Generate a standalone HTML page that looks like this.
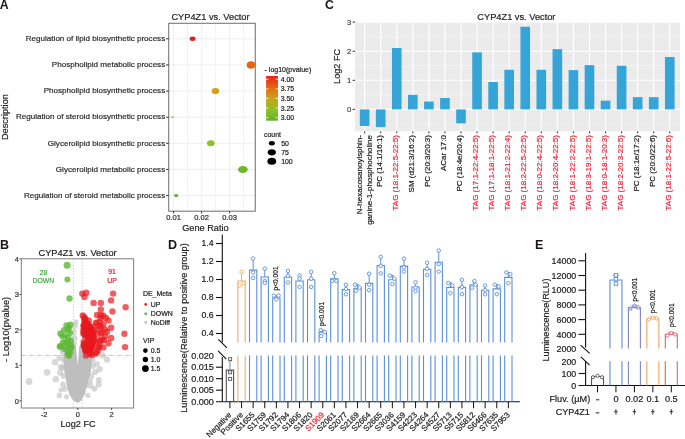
<!DOCTYPE html>
<html><head><meta charset="utf-8"><title>Figure</title>
<style>
html,body{margin:0;padding:0;background:#fff;overflow:hidden;}
svg{display:block;will-change:transform;filter:blur(0.3px);}
text{font-family:"Liberation Sans", sans-serif;}
</style></head>
<body>
<svg width="685" height="439" viewBox="0 0 685 439">
<rect width="685" height="439" fill="#fff"/>
<text x="-0.30" y="9.10" font-size="12.3" fill="#1a1414" text-anchor="start" font-weight="bold">A</text>
<line x1="173.60" y1="23.30" x2="173.60" y2="211.20" stroke="#EBEBEB" stroke-width="0.8"/>
<line x1="187.60" y1="23.30" x2="187.60" y2="211.20" stroke="#EBEBEB" stroke-width="0.6"/>
<line x1="201.60" y1="23.30" x2="201.60" y2="211.20" stroke="#EBEBEB" stroke-width="0.8"/>
<line x1="215.60" y1="23.30" x2="215.60" y2="211.20" stroke="#EBEBEB" stroke-width="0.6"/>
<line x1="229.60" y1="23.30" x2="229.60" y2="211.20" stroke="#EBEBEB" stroke-width="0.8"/>
<line x1="243.60" y1="23.30" x2="243.60" y2="211.20" stroke="#EBEBEB" stroke-width="0.6"/>
<line x1="168.70" y1="38.80" x2="255.30" y2="38.80" stroke="#EBEBEB" stroke-width="0.8"/>
<line x1="168.70" y1="64.93" x2="255.30" y2="64.93" stroke="#EBEBEB" stroke-width="0.8"/>
<line x1="168.70" y1="91.06" x2="255.30" y2="91.06" stroke="#EBEBEB" stroke-width="0.8"/>
<line x1="168.70" y1="117.19" x2="255.30" y2="117.19" stroke="#EBEBEB" stroke-width="0.8"/>
<line x1="168.70" y1="143.32" x2="255.30" y2="143.32" stroke="#EBEBEB" stroke-width="0.8"/>
<line x1="168.70" y1="169.45" x2="255.30" y2="169.45" stroke="#EBEBEB" stroke-width="0.8"/>
<line x1="168.70" y1="195.58" x2="255.30" y2="195.58" stroke="#EBEBEB" stroke-width="0.8"/>
<clipPath id="clipA"><rect x="168.7" y="23.3" width="86.60000000000002" height="187.89999999999998"/></clipPath>
<g clip-path="url(#clipA)">
<ellipse cx="192.60" cy="38.80" rx="3.00" ry="2.20" fill="#E51F1F"/>
<ellipse cx="251.00" cy="64.93" rx="4.30" ry="3.80" fill="#E5660F"/>
<ellipse cx="215.40" cy="91.06" rx="3.80" ry="3.10" fill="#D4A117"/>
<ellipse cx="172.60" cy="117.19" rx="1.30" ry="0.90" fill="#B3B521"/>
<ellipse cx="210.80" cy="143.32" rx="3.80" ry="3.00" fill="#8DC21F"/>
<ellipse cx="242.90" cy="169.45" rx="4.85" ry="3.50" fill="#6CB82A"/>
<ellipse cx="176.10" cy="195.58" rx="2.10" ry="1.50" fill="#63B22C"/>
</g>
<rect x="168.70" y="23.30" width="86.60" height="187.90" fill="none" stroke="#7a7a7a" stroke-width="1.1"/>
<text x="165.20" y="41.10" font-size="8.07" fill="#2a2a2a" text-anchor="end" stroke="#2a2a2a" stroke-width="0.2">Regulation of lipid biosynthetic process</text>
<line x1="166.00" y1="38.80" x2="168.70" y2="38.80" stroke="#333" stroke-width="1"/>
<text x="165.20" y="67.23" font-size="8.07" fill="#2a2a2a" text-anchor="end" stroke="#2a2a2a" stroke-width="0.2">Phospholipid metabolic process</text>
<line x1="166.00" y1="64.93" x2="168.70" y2="64.93" stroke="#333" stroke-width="1"/>
<text x="165.20" y="93.36" font-size="8.07" fill="#2a2a2a" text-anchor="end" stroke="#2a2a2a" stroke-width="0.2">Phospholipid biosynthetic process</text>
<line x1="166.00" y1="91.06" x2="168.70" y2="91.06" stroke="#333" stroke-width="1"/>
<text x="165.20" y="119.49" font-size="8.07" fill="#2a2a2a" text-anchor="end" stroke="#2a2a2a" stroke-width="0.2">Regulation of steroid biosynthetic process</text>
<line x1="166.00" y1="117.19" x2="168.70" y2="117.19" stroke="#333" stroke-width="1"/>
<text x="165.20" y="145.62" font-size="8.07" fill="#2a2a2a" text-anchor="end" stroke="#2a2a2a" stroke-width="0.2">Glycerolipid biosynthetic process</text>
<line x1="166.00" y1="143.32" x2="168.70" y2="143.32" stroke="#333" stroke-width="1"/>
<text x="165.20" y="171.75" font-size="8.07" fill="#2a2a2a" text-anchor="end" stroke="#2a2a2a" stroke-width="0.2">Glycerolipid metabolic process</text>
<line x1="166.00" y1="169.45" x2="168.70" y2="169.45" stroke="#333" stroke-width="1"/>
<text x="165.20" y="197.88" font-size="8.07" fill="#2a2a2a" text-anchor="end" stroke="#2a2a2a" stroke-width="0.2">Regulation of steroid metabolic process</text>
<line x1="166.00" y1="195.58" x2="168.70" y2="195.58" stroke="#333" stroke-width="1"/>
<line x1="173.60" y1="211.20" x2="173.60" y2="213.50" stroke="#333" stroke-width="1"/>
<text x="173.60" y="220.40" font-size="7.6" fill="#2a2a2a" text-anchor="middle" stroke="#2a2a2a" stroke-width="0.2">0.01</text>
<line x1="201.60" y1="211.20" x2="201.60" y2="213.50" stroke="#333" stroke-width="1"/>
<text x="201.60" y="220.40" font-size="7.6" fill="#2a2a2a" text-anchor="middle" stroke="#2a2a2a" stroke-width="0.2">0.02</text>
<line x1="229.60" y1="211.20" x2="229.60" y2="213.50" stroke="#333" stroke-width="1"/>
<text x="229.60" y="220.40" font-size="7.6" fill="#2a2a2a" text-anchor="middle" stroke="#2a2a2a" stroke-width="0.2">0.03</text>
<text x="205.40" y="230.50" font-size="9.2" fill="#222" text-anchor="middle" stroke="#222" stroke-width="0.2">Gene Ratio</text>
<text x="7.90" y="117.10" font-size="9.2" fill="#222" text-anchor="middle" transform="rotate(-90 7.90 117.10)" stroke="#222" stroke-width="0.2">Description</text>
<text x="210.50" y="20.30" font-size="9.25" fill="#222" text-anchor="middle" stroke="#222" stroke-width="0.2">CYP4Z1 vs. Vector</text>
<text x="264.60" y="71.80" font-size="7.0" fill="#222" text-anchor="start" stroke="#222" stroke-width="0.2">- log10(pvalue)</text>
<defs><linearGradient id="gA" x1="0" y1="0" x2="0" y2="1"><stop offset="0" stop-color="#E8211F"/><stop offset="0.25" stop-color="#E4650F"/><stop offset="0.5" stop-color="#C9A21A"/><stop offset="0.75" stop-color="#8FC021"/><stop offset="1" stop-color="#62B32C"/></linearGradient></defs>
<rect x="266.10" y="76.00" width="11.90" height="44.70" fill="url(#gA)"/>
<line x1="266.10" y1="79.20" x2="268.40" y2="79.20" stroke="#fff" stroke-width="0.8"/>
<line x1="275.70" y1="79.20" x2="278.00" y2="79.20" stroke="#fff" stroke-width="0.8"/>
<text x="280.70" y="81.70" font-size="6.9" fill="#222" text-anchor="start" stroke="#222" stroke-width="0.2">4.00</text>
<line x1="266.10" y1="88.82" x2="268.40" y2="88.82" stroke="#fff" stroke-width="0.8"/>
<line x1="275.70" y1="88.82" x2="278.00" y2="88.82" stroke="#fff" stroke-width="0.8"/>
<text x="280.70" y="91.32" font-size="6.9" fill="#222" text-anchor="start" stroke="#222" stroke-width="0.2">3.75</text>
<line x1="266.10" y1="98.44" x2="268.40" y2="98.44" stroke="#fff" stroke-width="0.8"/>
<line x1="275.70" y1="98.44" x2="278.00" y2="98.44" stroke="#fff" stroke-width="0.8"/>
<text x="280.70" y="100.94" font-size="6.9" fill="#222" text-anchor="start" stroke="#222" stroke-width="0.2">3.50</text>
<line x1="266.10" y1="108.06" x2="268.40" y2="108.06" stroke="#fff" stroke-width="0.8"/>
<line x1="275.70" y1="108.06" x2="278.00" y2="108.06" stroke="#fff" stroke-width="0.8"/>
<text x="280.70" y="110.56" font-size="6.9" fill="#222" text-anchor="start" stroke="#222" stroke-width="0.2">3.25</text>
<line x1="266.10" y1="117.68" x2="268.40" y2="117.68" stroke="#fff" stroke-width="0.8"/>
<line x1="275.70" y1="117.68" x2="278.00" y2="117.68" stroke="#fff" stroke-width="0.8"/>
<text x="280.70" y="120.18" font-size="6.9" fill="#222" text-anchor="start" stroke="#222" stroke-width="0.2">3.00</text>
<text x="264.10" y="137.00" font-size="6.9" fill="#222" text-anchor="start" stroke="#222" stroke-width="0.2">count</text>
<ellipse cx="271.80" cy="143.20" rx="3.00" ry="2.20" fill="#000"/>
<text x="281.20" y="145.70" font-size="6.9" fill="#222" text-anchor="start" stroke="#222" stroke-width="0.2">50</text>
<ellipse cx="271.80" cy="152.30" rx="4.10" ry="3.10" fill="#000"/>
<text x="281.20" y="154.80" font-size="6.9" fill="#222" text-anchor="start" stroke="#222" stroke-width="0.2">75</text>
<ellipse cx="271.80" cy="161.20" rx="4.40" ry="3.50" fill="#000"/>
<text x="281.20" y="163.70" font-size="6.9" fill="#222" text-anchor="start" stroke="#222" stroke-width="0.2">100</text>
<text x="324.90" y="9.30" font-size="12.3" fill="#1a1414" text-anchor="start" font-weight="bold">C</text>
<rect x="355.10" y="21.70" width="325.00" height="109.70" fill="#EBEBEB"/>
<line x1="355.10" y1="123.95" x2="680.10" y2="123.95" stroke="#F6F6F6" stroke-width="0.6"/>
<line x1="355.10" y1="94.85" x2="680.10" y2="94.85" stroke="#F6F6F6" stroke-width="0.6"/>
<line x1="355.10" y1="65.75" x2="680.10" y2="65.75" stroke="#F6F6F6" stroke-width="0.6"/>
<line x1="355.10" y1="36.65" x2="680.10" y2="36.65" stroke="#F6F6F6" stroke-width="0.6"/>
<line x1="355.10" y1="109.40" x2="680.10" y2="109.40" stroke="#FFFFFF" stroke-width="1.1"/>
<line x1="355.10" y1="80.30" x2="680.10" y2="80.30" stroke="#FFFFFF" stroke-width="1.1"/>
<line x1="355.10" y1="51.20" x2="680.10" y2="51.20" stroke="#FFFFFF" stroke-width="1.1"/>
<line x1="355.10" y1="22.10" x2="680.10" y2="22.10" stroke="#FFFFFF" stroke-width="1.1"/>
<line x1="364.64" y1="21.70" x2="364.64" y2="131.40" stroke="#FFFFFF" stroke-width="1.1"/>
<line x1="380.70" y1="21.70" x2="380.70" y2="131.40" stroke="#FFFFFF" stroke-width="1.1"/>
<line x1="396.76" y1="21.70" x2="396.76" y2="131.40" stroke="#FFFFFF" stroke-width="1.1"/>
<line x1="412.82" y1="21.70" x2="412.82" y2="131.40" stroke="#FFFFFF" stroke-width="1.1"/>
<line x1="428.88" y1="21.70" x2="428.88" y2="131.40" stroke="#FFFFFF" stroke-width="1.1"/>
<line x1="444.94" y1="21.70" x2="444.94" y2="131.40" stroke="#FFFFFF" stroke-width="1.1"/>
<line x1="461.00" y1="21.70" x2="461.00" y2="131.40" stroke="#FFFFFF" stroke-width="1.1"/>
<line x1="477.06" y1="21.70" x2="477.06" y2="131.40" stroke="#FFFFFF" stroke-width="1.1"/>
<line x1="493.12" y1="21.70" x2="493.12" y2="131.40" stroke="#FFFFFF" stroke-width="1.1"/>
<line x1="509.18" y1="21.70" x2="509.18" y2="131.40" stroke="#FFFFFF" stroke-width="1.1"/>
<line x1="525.24" y1="21.70" x2="525.24" y2="131.40" stroke="#FFFFFF" stroke-width="1.1"/>
<line x1="541.30" y1="21.70" x2="541.30" y2="131.40" stroke="#FFFFFF" stroke-width="1.1"/>
<line x1="557.36" y1="21.70" x2="557.36" y2="131.40" stroke="#FFFFFF" stroke-width="1.1"/>
<line x1="573.42" y1="21.70" x2="573.42" y2="131.40" stroke="#FFFFFF" stroke-width="1.1"/>
<line x1="589.48" y1="21.70" x2="589.48" y2="131.40" stroke="#FFFFFF" stroke-width="1.1"/>
<line x1="605.54" y1="21.70" x2="605.54" y2="131.40" stroke="#FFFFFF" stroke-width="1.1"/>
<line x1="621.60" y1="21.70" x2="621.60" y2="131.40" stroke="#FFFFFF" stroke-width="1.1"/>
<line x1="637.66" y1="21.70" x2="637.66" y2="131.40" stroke="#FFFFFF" stroke-width="1.1"/>
<line x1="653.72" y1="21.70" x2="653.72" y2="131.40" stroke="#FFFFFF" stroke-width="1.1"/>
<line x1="669.78" y1="21.70" x2="669.78" y2="131.40" stroke="#FFFFFF" stroke-width="1.1"/>
<rect x="359.82" y="109.40" width="9.64" height="16.59" fill="#35A5D9"/>
<rect x="375.88" y="109.40" width="9.64" height="17.75" fill="#35A5D9"/>
<rect x="391.94" y="48.00" width="9.64" height="61.40" fill="#35A5D9"/>
<rect x="408.00" y="94.85" width="9.64" height="14.55" fill="#35A5D9"/>
<rect x="424.06" y="101.54" width="9.64" height="7.86" fill="#35A5D9"/>
<rect x="440.12" y="98.05" width="9.64" height="11.35" fill="#35A5D9"/>
<rect x="456.18" y="109.40" width="9.64" height="13.97" fill="#35A5D9"/>
<rect x="472.24" y="52.36" width="9.64" height="57.04" fill="#35A5D9"/>
<rect x="488.30" y="82.05" width="9.64" height="27.35" fill="#35A5D9"/>
<rect x="504.36" y="69.82" width="9.64" height="39.58" fill="#35A5D9"/>
<rect x="520.42" y="26.76" width="9.64" height="82.64" fill="#35A5D9"/>
<rect x="536.48" y="69.82" width="9.64" height="39.58" fill="#35A5D9"/>
<rect x="552.54" y="49.16" width="9.64" height="60.24" fill="#35A5D9"/>
<rect x="568.60" y="70.12" width="9.64" height="39.28" fill="#35A5D9"/>
<rect x="584.66" y="65.17" width="9.64" height="44.23" fill="#35A5D9"/>
<rect x="600.72" y="100.67" width="9.64" height="8.73" fill="#35A5D9"/>
<rect x="616.78" y="65.75" width="9.64" height="43.65" fill="#35A5D9"/>
<rect x="632.84" y="97.18" width="9.64" height="12.22" fill="#35A5D9"/>
<rect x="648.90" y="97.18" width="9.64" height="12.22" fill="#35A5D9"/>
<rect x="664.96" y="57.02" width="9.64" height="52.38" fill="#35A5D9"/>
<text x="351.30" y="112.20" font-size="7.8" fill="#4a4a4a" text-anchor="end" stroke="#4a4a4a" stroke-width="0.2">0</text>
<line x1="352.60" y1="109.40" x2="355.10" y2="109.40" stroke="#333" stroke-width="1"/>
<text x="351.30" y="83.10" font-size="7.8" fill="#4a4a4a" text-anchor="end" stroke="#4a4a4a" stroke-width="0.2">1</text>
<line x1="352.60" y1="80.30" x2="355.10" y2="80.30" stroke="#333" stroke-width="1"/>
<text x="351.30" y="54.00" font-size="7.8" fill="#4a4a4a" text-anchor="end" stroke="#4a4a4a" stroke-width="0.2">2</text>
<line x1="352.60" y1="51.20" x2="355.10" y2="51.20" stroke="#333" stroke-width="1"/>
<text x="351.30" y="24.90" font-size="7.8" fill="#4a4a4a" text-anchor="end" stroke="#4a4a4a" stroke-width="0.2">3</text>
<line x1="352.60" y1="22.10" x2="355.10" y2="22.10" stroke="#333" stroke-width="1"/>
<text x="339.60" y="66.40" font-size="9.15" fill="#222" text-anchor="middle" transform="rotate(-90 339.60 66.40)" stroke="#222" stroke-width="0.2">Log2 FC</text>
<text x="516.40" y="20.20" font-size="9.25" fill="#222" text-anchor="middle" stroke="#222" stroke-width="0.2">CYP4Z1 vs. Vector</text>
<line x1="364.64" y1="131.40" x2="364.64" y2="133.40" stroke="#333" stroke-width="1"/>
<text x="361.50" y="135.00" font-size="8.0" fill="#222" text-anchor="end" transform="rotate(-90 361.50 135.00)" stroke="#222" stroke-width="0.2">N-hexacosanoylsphin-</text>
<text x="371.90" y="135.00" font-size="8.0" fill="#222" text-anchor="end" transform="rotate(-90 371.90 135.00)" stroke="#222" stroke-width="0.2">ganine-1-phosphocholine</text>
<line x1="380.70" y1="131.40" x2="380.70" y2="133.40" stroke="#333" stroke-width="1"/>
<text x="381.80" y="135.00" font-size="8.0" fill="#222" text-anchor="end" transform="rotate(-90 381.80 135.00)" stroke="#222" stroke-width="0.2">PC (14:1/16:1)</text>
<line x1="396.76" y1="131.40" x2="396.76" y2="133.40" stroke="#333" stroke-width="1"/>
<text x="397.86" y="135.00" font-size="8.0" fill="#E8283C" text-anchor="end" transform="rotate(-90 397.86 135.00)" stroke="#E8283C" stroke-width="0.2">TAG (18:1-22:5-22:5)</text>
<line x1="412.82" y1="131.40" x2="412.82" y2="133.40" stroke="#333" stroke-width="1"/>
<text x="413.92" y="135.00" font-size="8.0" fill="#222" text-anchor="end" transform="rotate(-90 413.92 135.00)" stroke="#222" stroke-width="0.2">SM (d21:3/16:2)</text>
<line x1="428.88" y1="131.40" x2="428.88" y2="133.40" stroke="#333" stroke-width="1"/>
<text x="429.98" y="135.00" font-size="8.0" fill="#222" text-anchor="end" transform="rotate(-90 429.98 135.00)" stroke="#222" stroke-width="0.2">PC (20:3/20:3)</text>
<line x1="444.94" y1="131.40" x2="444.94" y2="133.40" stroke="#333" stroke-width="1"/>
<text x="446.04" y="135.00" font-size="8.0" fill="#222" text-anchor="end" transform="rotate(-90 446.04 135.00)" stroke="#222" stroke-width="0.2">ACar 17:0</text>
<line x1="461.00" y1="131.40" x2="461.00" y2="133.40" stroke="#333" stroke-width="1"/>
<text x="462.10" y="135.00" font-size="8.0" fill="#222" text-anchor="end" transform="rotate(-90 462.10 135.00)" stroke="#222" stroke-width="0.2">PC (18:4e/20:4)</text>
<line x1="477.06" y1="131.40" x2="477.06" y2="133.40" stroke="#333" stroke-width="1"/>
<text x="478.16" y="135.00" font-size="8.0" fill="#E8283C" text-anchor="end" transform="rotate(-90 478.16 135.00)" stroke="#E8283C" stroke-width="0.2">TAG (17:1-22:4-22:5)</text>
<line x1="493.12" y1="131.40" x2="493.12" y2="133.40" stroke="#333" stroke-width="1"/>
<text x="494.22" y="135.00" font-size="8.0" fill="#E8283C" text-anchor="end" transform="rotate(-90 494.22 135.00)" stroke="#E8283C" stroke-width="0.2">TAG (17:1-18:1-22:5)</text>
<line x1="509.18" y1="131.40" x2="509.18" y2="133.40" stroke="#333" stroke-width="1"/>
<text x="510.28" y="135.00" font-size="8.0" fill="#E8283C" text-anchor="end" transform="rotate(-90 510.28 135.00)" stroke="#E8283C" stroke-width="0.2">TAG (18:1-21:2-22:4)</text>
<line x1="525.24" y1="131.40" x2="525.24" y2="133.40" stroke="#333" stroke-width="1"/>
<text x="526.34" y="135.00" font-size="8.0" fill="#E8283C" text-anchor="end" transform="rotate(-90 526.34 135.00)" stroke="#E8283C" stroke-width="0.2">TAG (18:2-22:5-22:5)</text>
<line x1="541.30" y1="131.40" x2="541.30" y2="133.40" stroke="#333" stroke-width="1"/>
<text x="542.40" y="135.00" font-size="8.0" fill="#E8283C" text-anchor="end" transform="rotate(-90 542.40 135.00)" stroke="#E8283C" stroke-width="0.2">TAG (18:0-22:4-22:5)</text>
<line x1="557.36" y1="131.40" x2="557.36" y2="133.40" stroke="#333" stroke-width="1"/>
<text x="558.46" y="135.00" font-size="8.0" fill="#E8283C" text-anchor="end" transform="rotate(-90 558.46 135.00)" stroke="#E8283C" stroke-width="0.2">TAG (18:2-20:4-22:5)</text>
<line x1="573.42" y1="131.40" x2="573.42" y2="133.40" stroke="#333" stroke-width="1"/>
<text x="574.52" y="135.00" font-size="8.0" fill="#E8283C" text-anchor="end" transform="rotate(-90 574.52 135.00)" stroke="#E8283C" stroke-width="0.2">TAG (18:1-22:2-22:5)</text>
<line x1="589.48" y1="131.40" x2="589.48" y2="133.40" stroke="#333" stroke-width="1"/>
<text x="590.58" y="135.00" font-size="8.0" fill="#E8283C" text-anchor="end" transform="rotate(-90 590.58 135.00)" stroke="#E8283C" stroke-width="0.2">TAG (18:3-19:1-22:5)</text>
<line x1="605.54" y1="131.40" x2="605.54" y2="133.40" stroke="#333" stroke-width="1"/>
<text x="606.64" y="135.00" font-size="8.0" fill="#E8283C" text-anchor="end" transform="rotate(-90 606.64 135.00)" stroke="#E8283C" stroke-width="0.2">TAG (18:0-18:1-20:3)</text>
<line x1="621.60" y1="131.40" x2="621.60" y2="133.40" stroke="#333" stroke-width="1"/>
<text x="622.70" y="135.00" font-size="8.0" fill="#E8283C" text-anchor="end" transform="rotate(-90 622.70 135.00)" stroke="#E8283C" stroke-width="0.2">TAG (18:2-20:3-22:5)</text>
<line x1="637.66" y1="131.40" x2="637.66" y2="133.40" stroke="#333" stroke-width="1"/>
<text x="638.76" y="135.00" font-size="8.0" fill="#222" text-anchor="end" transform="rotate(-90 638.76 135.00)" stroke="#222" stroke-width="0.2">PC (18:1e/17:2)</text>
<line x1="653.72" y1="131.40" x2="653.72" y2="133.40" stroke="#333" stroke-width="1"/>
<text x="654.82" y="135.00" font-size="8.0" fill="#222" text-anchor="end" transform="rotate(-90 654.82 135.00)" stroke="#222" stroke-width="0.2">PC (20:0/22:6)</text>
<line x1="669.78" y1="131.40" x2="669.78" y2="133.40" stroke="#333" stroke-width="1"/>
<text x="670.88" y="135.00" font-size="8.0" fill="#E8283C" text-anchor="end" transform="rotate(-90 670.88 135.00)" stroke="#E8283C" stroke-width="0.2">TAG (18:1-22:5-22:6)</text>
<text x="0.00" y="248.70" font-size="12.5" fill="#1a1414" text-anchor="start" font-weight="bold">B</text>
<text x="77.60" y="256.30" font-size="9.25" fill="#222" text-anchor="middle" stroke="#222" stroke-width="0.2">CYP4Z1 vs. Vector</text>
<clipPath id="clipB"><rect x="21.3" y="258.8" width="112.3" height="149.2"/></clipPath>
<g clip-path="url(#clipB)">
<line x1="73.36" y1="258.80" x2="73.36" y2="408.00" stroke="#BBBBBB" stroke-width="0.7" stroke-dasharray="1.5,1.5"/>
<line x1="82.24" y1="258.80" x2="82.24" y2="408.00" stroke="#BBBBBB" stroke-width="0.7" stroke-dasharray="1.5,1.5"/>
<line x1="21.30" y1="355.50" x2="133.60" y2="355.50" stroke="#AAAAAA" stroke-width="0.7" stroke-dasharray="4,1.5,1,1.5"/>
<path d="M77.7,403.0 L73.3,400.5 L69.6,395.0 L67.4,388.0 L66.0,380.0 L64.5,372.0 L63.8,365.0 L63.3,358.0 L64.0,350.0 L67.0,345.0 L73.0,343.0 L75.8,346.0 L77.7,365.0 L79.5,346.0 L82.0,342.0 L88.0,342.0 L91.5,348.0 L92.3,358.0 L91.5,365.0 L90.8,372.0 L88.6,380.0 L86.4,388.0 L84.2,395.0 L81.3,400.5 Z" fill="#BEBEBE"/>
<circle cx="74.02" cy="354.00" r="3.20" fill="#BEBEBE" fill-opacity="0.6"/>
<circle cx="81.51" cy="349.84" r="3.20" fill="#BEBEBE" fill-opacity="0.6"/>
<circle cx="78.87" cy="365.38" r="3.20" fill="#BEBEBE" fill-opacity="0.6"/>
<circle cx="67.46" cy="368.98" r="3.20" fill="#BEBEBE" fill-opacity="0.6"/>
<circle cx="68.20" cy="350.81" r="3.20" fill="#BEBEBE" fill-opacity="0.6"/>
<circle cx="76.32" cy="389.82" r="3.20" fill="#BEBEBE" fill-opacity="0.6"/>
<circle cx="69.44" cy="357.83" r="3.20" fill="#BEBEBE" fill-opacity="0.6"/>
<circle cx="79.82" cy="367.02" r="3.20" fill="#BEBEBE" fill-opacity="0.6"/>
<circle cx="86.26" cy="361.35" r="3.20" fill="#BEBEBE" fill-opacity="0.6"/>
<circle cx="69.90" cy="352.24" r="3.20" fill="#BEBEBE" fill-opacity="0.6"/>
<circle cx="73.66" cy="389.25" r="3.20" fill="#BEBEBE" fill-opacity="0.6"/>
<circle cx="70.74" cy="376.82" r="3.20" fill="#BEBEBE" fill-opacity="0.6"/>
<circle cx="81.23" cy="365.74" r="3.20" fill="#BEBEBE" fill-opacity="0.6"/>
<circle cx="67.96" cy="356.92" r="3.20" fill="#BEBEBE" fill-opacity="0.6"/>
<circle cx="82.18" cy="368.66" r="3.20" fill="#BEBEBE" fill-opacity="0.6"/>
<circle cx="73.79" cy="377.03" r="3.20" fill="#BEBEBE" fill-opacity="0.6"/>
<circle cx="76.98" cy="361.89" r="3.20" fill="#BEBEBE" fill-opacity="0.6"/>
<circle cx="84.79" cy="383.05" r="3.20" fill="#BEBEBE" fill-opacity="0.6"/>
<circle cx="72.19" cy="376.44" r="3.20" fill="#BEBEBE" fill-opacity="0.6"/>
<circle cx="78.63" cy="392.38" r="3.20" fill="#BEBEBE" fill-opacity="0.6"/>
<circle cx="83.30" cy="361.26" r="3.20" fill="#BEBEBE" fill-opacity="0.6"/>
<circle cx="89.05" cy="352.26" r="3.20" fill="#BEBEBE" fill-opacity="0.6"/>
<circle cx="76.18" cy="386.13" r="3.20" fill="#BEBEBE" fill-opacity="0.6"/>
<circle cx="70.08" cy="371.92" r="3.20" fill="#BEBEBE" fill-opacity="0.6"/>
<circle cx="84.11" cy="376.37" r="3.20" fill="#BEBEBE" fill-opacity="0.6"/>
<circle cx="86.65" cy="362.63" r="3.20" fill="#BEBEBE" fill-opacity="0.6"/>
<circle cx="82.52" cy="377.50" r="3.20" fill="#BEBEBE" fill-opacity="0.6"/>
<circle cx="79.88" cy="370.18" r="3.20" fill="#BEBEBE" fill-opacity="0.6"/>
<circle cx="77.46" cy="381.20" r="3.20" fill="#BEBEBE" fill-opacity="0.6"/>
<circle cx="85.42" cy="361.08" r="3.20" fill="#BEBEBE" fill-opacity="0.6"/>
<circle cx="75.43" cy="381.44" r="3.20" fill="#BEBEBE" fill-opacity="0.6"/>
<circle cx="70.45" cy="352.21" r="3.20" fill="#BEBEBE" fill-opacity="0.6"/>
<circle cx="69.56" cy="359.12" r="3.20" fill="#BEBEBE" fill-opacity="0.6"/>
<circle cx="75.55" cy="392.19" r="3.20" fill="#BEBEBE" fill-opacity="0.6"/>
<circle cx="68.45" cy="369.81" r="3.20" fill="#BEBEBE" fill-opacity="0.6"/>
<circle cx="79.18" cy="392.82" r="3.20" fill="#BEBEBE" fill-opacity="0.6"/>
<circle cx="72.98" cy="368.01" r="3.20" fill="#BEBEBE" fill-opacity="0.6"/>
<circle cx="74.82" cy="392.86" r="3.20" fill="#BEBEBE" fill-opacity="0.6"/>
<circle cx="88.53" cy="354.00" r="3.20" fill="#BEBEBE" fill-opacity="0.6"/>
<circle cx="70.64" cy="358.29" r="3.20" fill="#BEBEBE" fill-opacity="0.6"/>
<circle cx="71.94" cy="371.70" r="3.20" fill="#BEBEBE" fill-opacity="0.6"/>
<circle cx="80.09" cy="359.93" r="3.20" fill="#BEBEBE" fill-opacity="0.6"/>
<circle cx="75.06" cy="376.02" r="3.20" fill="#BEBEBE" fill-opacity="0.6"/>
<circle cx="78.40" cy="378.73" r="3.20" fill="#BEBEBE" fill-opacity="0.6"/>
<circle cx="82.08" cy="348.86" r="3.20" fill="#BEBEBE" fill-opacity="0.6"/>
<circle cx="75.59" cy="367.15" r="3.20" fill="#BEBEBE" fill-opacity="0.6"/>
<circle cx="71.38" cy="354.60" r="3.20" fill="#BEBEBE" fill-opacity="0.6"/>
<circle cx="68.92" cy="365.27" r="3.20" fill="#BEBEBE" fill-opacity="0.6"/>
<circle cx="80.66" cy="353.87" r="3.20" fill="#BEBEBE" fill-opacity="0.6"/>
<circle cx="72.38" cy="364.41" r="3.20" fill="#BEBEBE" fill-opacity="0.6"/>
<circle cx="74.94" cy="352.51" r="3.20" fill="#BEBEBE" fill-opacity="0.6"/>
<circle cx="77.27" cy="371.64" r="3.20" fill="#BEBEBE" fill-opacity="0.6"/>
<circle cx="68.57" cy="351.42" r="3.20" fill="#BEBEBE" fill-opacity="0.6"/>
<circle cx="74.45" cy="360.03" r="3.20" fill="#BEBEBE" fill-opacity="0.6"/>
<circle cx="85.58" cy="354.56" r="3.20" fill="#BEBEBE" fill-opacity="0.6"/>
<circle cx="78.69" cy="397.86" r="3.20" fill="#BEBEBE" fill-opacity="0.6"/>
<circle cx="72.58" cy="365.44" r="3.20" fill="#BEBEBE" fill-opacity="0.6"/>
<circle cx="78.80" cy="387.29" r="3.20" fill="#BEBEBE" fill-opacity="0.6"/>
<circle cx="74.15" cy="357.82" r="3.20" fill="#BEBEBE" fill-opacity="0.6"/>
<circle cx="85.34" cy="385.21" r="3.20" fill="#BEBEBE" fill-opacity="0.6"/>
<circle cx="71.79" cy="373.43" r="3.20" fill="#BEBEBE" fill-opacity="0.6"/>
<circle cx="67.24" cy="360.81" r="3.20" fill="#BEBEBE" fill-opacity="0.6"/>
<circle cx="72.54" cy="382.70" r="3.20" fill="#BEBEBE" fill-opacity="0.6"/>
<circle cx="88.47" cy="365.33" r="3.20" fill="#BEBEBE" fill-opacity="0.6"/>
<circle cx="71.65" cy="358.02" r="3.20" fill="#BEBEBE" fill-opacity="0.6"/>
<circle cx="71.10" cy="356.83" r="3.20" fill="#BEBEBE" fill-opacity="0.6"/>
<circle cx="80.89" cy="393.72" r="3.20" fill="#BEBEBE" fill-opacity="0.6"/>
<circle cx="85.85" cy="371.41" r="3.20" fill="#BEBEBE" fill-opacity="0.6"/>
<circle cx="81.55" cy="388.38" r="3.20" fill="#BEBEBE" fill-opacity="0.6"/>
<circle cx="83.78" cy="371.34" r="3.20" fill="#BEBEBE" fill-opacity="0.6"/>
<circle cx="74.21" cy="388.44" r="3.20" fill="#BEBEBE" fill-opacity="0.6"/>
<circle cx="75.79" cy="396.18" r="3.20" fill="#BEBEBE" fill-opacity="0.6"/>
<circle cx="83.20" cy="355.01" r="3.20" fill="#BEBEBE" fill-opacity="0.6"/>
<circle cx="69.51" cy="354.01" r="3.20" fill="#BEBEBE" fill-opacity="0.6"/>
<circle cx="74.62" cy="375.08" r="3.20" fill="#BEBEBE" fill-opacity="0.6"/>
<circle cx="78.66" cy="395.48" r="3.20" fill="#BEBEBE" fill-opacity="0.6"/>
<circle cx="76.53" cy="392.20" r="3.20" fill="#BEBEBE" fill-opacity="0.6"/>
<circle cx="85.52" cy="357.19" r="3.20" fill="#BEBEBE" fill-opacity="0.6"/>
<circle cx="72.37" cy="361.53" r="3.20" fill="#BEBEBE" fill-opacity="0.6"/>
<circle cx="72.11" cy="377.08" r="3.20" fill="#BEBEBE" fill-opacity="0.6"/>
<circle cx="72.54" cy="368.21" r="3.20" fill="#BEBEBE" fill-opacity="0.6"/>
<circle cx="74.70" cy="370.28" r="3.20" fill="#BEBEBE" fill-opacity="0.6"/>
<circle cx="79.96" cy="393.93" r="3.20" fill="#BEBEBE" fill-opacity="0.6"/>
<circle cx="76.23" cy="394.64" r="3.20" fill="#BEBEBE" fill-opacity="0.6"/>
<circle cx="78.09" cy="374.19" r="3.20" fill="#BEBEBE" fill-opacity="0.6"/>
<circle cx="70.55" cy="371.10" r="3.20" fill="#BEBEBE" fill-opacity="0.6"/>
<circle cx="83.21" cy="375.49" r="3.20" fill="#BEBEBE" fill-opacity="0.6"/>
<circle cx="74.06" cy="373.47" r="3.20" fill="#BEBEBE" fill-opacity="0.6"/>
<circle cx="79.32" cy="387.57" r="3.20" fill="#BEBEBE" fill-opacity="0.6"/>
<circle cx="69.03" cy="375.70" r="3.20" fill="#BEBEBE" fill-opacity="0.6"/>
<circle cx="72.29" cy="360.68" r="3.20" fill="#BEBEBE" fill-opacity="0.6"/>
<circle cx="84.28" cy="372.91" r="3.20" fill="#BEBEBE" fill-opacity="0.6"/>
<circle cx="79.46" cy="386.28" r="3.20" fill="#BEBEBE" fill-opacity="0.6"/>
<circle cx="87.50" cy="369.49" r="3.20" fill="#BEBEBE" fill-opacity="0.6"/>
<circle cx="80.63" cy="372.79" r="3.20" fill="#BEBEBE" fill-opacity="0.6"/>
<circle cx="78.33" cy="382.71" r="3.20" fill="#BEBEBE" fill-opacity="0.6"/>
<circle cx="76.96" cy="374.26" r="3.20" fill="#BEBEBE" fill-opacity="0.6"/>
<circle cx="77.55" cy="395.90" r="3.20" fill="#BEBEBE" fill-opacity="0.6"/>
<circle cx="82.61" cy="392.46" r="3.20" fill="#BEBEBE" fill-opacity="0.6"/>
<circle cx="88.18" cy="359.76" r="3.20" fill="#BEBEBE" fill-opacity="0.6"/>
<circle cx="79.41" cy="395.99" r="3.20" fill="#BEBEBE" fill-opacity="0.6"/>
<circle cx="85.84" cy="353.27" r="3.20" fill="#BEBEBE" fill-opacity="0.6"/>
<circle cx="69.39" cy="369.43" r="3.20" fill="#BEBEBE" fill-opacity="0.6"/>
<circle cx="68.26" cy="358.75" r="3.20" fill="#BEBEBE" fill-opacity="0.6"/>
<circle cx="70.14" cy="383.95" r="3.20" fill="#BEBEBE" fill-opacity="0.6"/>
<circle cx="81.72" cy="353.58" r="3.20" fill="#BEBEBE" fill-opacity="0.6"/>
<circle cx="75.72" cy="371.82" r="3.20" fill="#BEBEBE" fill-opacity="0.6"/>
<circle cx="70.30" cy="368.87" r="3.20" fill="#BEBEBE" fill-opacity="0.6"/>
<circle cx="78.41" cy="363.97" r="3.20" fill="#BEBEBE" fill-opacity="0.6"/>
<circle cx="71.08" cy="362.88" r="3.20" fill="#BEBEBE" fill-opacity="0.6"/>
<circle cx="83.14" cy="347.03" r="3.20" fill="#BEBEBE" fill-opacity="0.6"/>
<circle cx="79.29" cy="369.34" r="3.20" fill="#BEBEBE" fill-opacity="0.6"/>
<circle cx="67.01" cy="363.57" r="3.20" fill="#BEBEBE" fill-opacity="0.6"/>
<circle cx="80.89" cy="373.15" r="3.20" fill="#BEBEBE" fill-opacity="0.6"/>
<circle cx="69.00" cy="360.07" r="3.20" fill="#BEBEBE" fill-opacity="0.6"/>
<circle cx="72.79" cy="352.87" r="3.20" fill="#BEBEBE" fill-opacity="0.6"/>
<circle cx="76.27" cy="394.30" r="3.20" fill="#BEBEBE" fill-opacity="0.6"/>
<circle cx="85.35" cy="359.71" r="3.20" fill="#BEBEBE" fill-opacity="0.6"/>
<circle cx="79.67" cy="383.12" r="3.20" fill="#BEBEBE" fill-opacity="0.6"/>
<circle cx="68.65" cy="349.05" r="3.20" fill="#BEBEBE" fill-opacity="0.6"/>
<circle cx="82.36" cy="368.54" r="3.20" fill="#BEBEBE" fill-opacity="0.6"/>
<circle cx="81.13" cy="388.49" r="3.20" fill="#BEBEBE" fill-opacity="0.6"/>
<circle cx="76.99" cy="363.98" r="3.20" fill="#BEBEBE" fill-opacity="0.6"/>
<circle cx="79.27" cy="395.11" r="3.20" fill="#BEBEBE" fill-opacity="0.6"/>
<circle cx="72.73" cy="352.85" r="3.20" fill="#BEBEBE" fill-opacity="0.6"/>
<circle cx="78.67" cy="358.64" r="3.20" fill="#BEBEBE" fill-opacity="0.6"/>
<circle cx="69.11" cy="354.56" r="3.20" fill="#BEBEBE" fill-opacity="0.6"/>
<circle cx="67.75" cy="356.69" r="3.20" fill="#BEBEBE" fill-opacity="0.6"/>
<circle cx="73.74" cy="362.17" r="3.20" fill="#BEBEBE" fill-opacity="0.6"/>
<circle cx="83.99" cy="361.37" r="3.20" fill="#BEBEBE" fill-opacity="0.6"/>
<circle cx="83.39" cy="375.21" r="3.20" fill="#BEBEBE" fill-opacity="0.6"/>
<circle cx="70.94" cy="371.16" r="3.20" fill="#BEBEBE" fill-opacity="0.6"/>
<circle cx="88.00" cy="351.63" r="3.20" fill="#BEBEBE" fill-opacity="0.6"/>
<circle cx="85.35" cy="368.91" r="3.20" fill="#BEBEBE" fill-opacity="0.6"/>
<circle cx="77.94" cy="390.23" r="3.20" fill="#BEBEBE" fill-opacity="0.6"/>
<circle cx="75.60" cy="372.85" r="3.20" fill="#BEBEBE" fill-opacity="0.6"/>
<circle cx="74.45" cy="390.11" r="3.20" fill="#BEBEBE" fill-opacity="0.6"/>
<circle cx="82.78" cy="379.71" r="3.20" fill="#BEBEBE" fill-opacity="0.6"/>
<circle cx="75.87" cy="364.42" r="3.20" fill="#BEBEBE" fill-opacity="0.6"/>
<circle cx="67.85" cy="352.88" r="3.20" fill="#BEBEBE" fill-opacity="0.6"/>
<circle cx="29.00" cy="381.50" r="3.40" fill="#BEBEBE" fill-opacity="0.6"/>
<circle cx="47.00" cy="372.30" r="3.40" fill="#BEBEBE" fill-opacity="0.6"/>
<circle cx="55.00" cy="362.20" r="3.20" fill="#BEBEBE" fill-opacity="0.6"/>
<circle cx="59.40" cy="395.40" r="2.80" fill="#BEBEBE" fill-opacity="0.6"/>
<circle cx="55.80" cy="379.30" r="3.20" fill="#BEBEBE" fill-opacity="0.6"/>
<circle cx="60.90" cy="366.90" r="3.20" fill="#BEBEBE" fill-opacity="0.6"/>
<circle cx="60.10" cy="372.70" r="3.00" fill="#BEBEBE" fill-opacity="0.6"/>
<circle cx="63.10" cy="384.40" r="3.00" fill="#BEBEBE" fill-opacity="0.6"/>
<circle cx="66.40" cy="396.80" r="2.60" fill="#BEBEBE" fill-opacity="0.6"/>
<circle cx="99.60" cy="369.10" r="3.20" fill="#BEBEBE" fill-opacity="0.6"/>
<circle cx="106.90" cy="359.60" r="3.20" fill="#BEBEBE" fill-opacity="0.6"/>
<circle cx="102.50" cy="355.20" r="3.20" fill="#BEBEBE" fill-opacity="0.6"/>
<circle cx="95.20" cy="372.00" r="3.00" fill="#BEBEBE" fill-opacity="0.6"/>
<circle cx="98.80" cy="380.00" r="3.00" fill="#BEBEBE" fill-opacity="0.6"/>
<circle cx="94.50" cy="388.80" r="3.00" fill="#BEBEBE" fill-opacity="0.6"/>
<circle cx="87.90" cy="395.40" r="2.60" fill="#BEBEBE" fill-opacity="0.6"/>
<circle cx="98.80" cy="384.40" r="3.00" fill="#BEBEBE" fill-opacity="0.6"/>
<circle cx="90.00" cy="381.50" r="3.00" fill="#BEBEBE" fill-opacity="0.6"/>
<circle cx="59.40" cy="358.10" r="3.00" fill="#BEBEBE" fill-opacity="0.6"/>
<circle cx="62.50" cy="352.00" r="3.00" fill="#BEBEBE" fill-opacity="0.6"/>
<circle cx="64.00" cy="360.00" r="3.00" fill="#BEBEBE" fill-opacity="0.6"/>
<circle cx="63.50" cy="376.00" r="3.00" fill="#BEBEBE" fill-opacity="0.6"/>
<circle cx="65.00" cy="389.00" r="2.80" fill="#BEBEBE" fill-opacity="0.6"/>
<circle cx="92.50" cy="360.00" r="3.00" fill="#BEBEBE" fill-opacity="0.6"/>
<circle cx="93.00" cy="366.00" r="3.00" fill="#BEBEBE" fill-opacity="0.6"/>
<circle cx="91.50" cy="376.00" r="3.00" fill="#BEBEBE" fill-opacity="0.6"/>
<circle cx="90.50" cy="386.00" r="2.80" fill="#BEBEBE" fill-opacity="0.6"/>
<circle cx="95.50" cy="354.00" r="3.00" fill="#BEBEBE" fill-opacity="0.6"/>
<circle cx="73.80" cy="332.00" r="3.00" fill="#BEBEBE" fill-opacity="0.6"/>
<circle cx="74.50" cy="338.00" r="3.00" fill="#BEBEBE" fill-opacity="0.6"/>
<circle cx="74.20" cy="344.00" r="3.00" fill="#BEBEBE" fill-opacity="0.6"/>
<circle cx="74.80" cy="326.00" r="3.00" fill="#BEBEBE" fill-opacity="0.6"/>
<circle cx="76.00" cy="322.00" r="2.60" fill="#BEBEBE" fill-opacity="0.6"/>
<circle cx="71.00" cy="356.00" r="3.00" fill="#BEBEBE" fill-opacity="0.6"/>
<circle cx="85.00" cy="355.00" r="3.00" fill="#BEBEBE" fill-opacity="0.6"/>
<circle cx="88.00" cy="353.00" r="3.00" fill="#BEBEBE" fill-opacity="0.6"/>
<circle cx="63.00" cy="368.00" r="3.00" fill="#BEBEBE" fill-opacity="0.6"/>
<circle cx="92.00" cy="351.00" r="3.00" fill="#BEBEBE" fill-opacity="0.6"/>
<circle cx="97.00" cy="364.00" r="2.80" fill="#BEBEBE" fill-opacity="0.6"/>
<circle cx="61.00" cy="390.00" r="2.60" fill="#BEBEBE" fill-opacity="0.6"/>
<path d="M76,345 L79.2,345 L78.5,356 L77.7,365 L76.8,356 Z" fill="#fff"/>
<circle cx="67.10" cy="265.20" r="3.50" fill="#5DB834" fill-opacity="0.8"/>
<circle cx="67.40" cy="279.40" r="3.00" fill="#5DB834" fill-opacity="0.8"/>
<circle cx="69.50" cy="298.50" r="3.20" fill="#5DB834" fill-opacity="0.8"/>
<circle cx="66.50" cy="325.40" r="3.20" fill="#5DB834" fill-opacity="0.8"/>
<circle cx="70.30" cy="324.80" r="3.20" fill="#5DB834" fill-opacity="0.8"/>
<circle cx="60.50" cy="333.40" r="3.20" fill="#5DB834" fill-opacity="0.8"/>
<circle cx="67.70" cy="330.00" r="3.20" fill="#5DB834" fill-opacity="0.8"/>
<circle cx="68.20" cy="337.40" r="3.20" fill="#5DB834" fill-opacity="0.8"/>
<circle cx="60.30" cy="346.20" r="3.20" fill="#5DB834" fill-opacity="0.8"/>
<circle cx="66.00" cy="346.50" r="3.20" fill="#5DB834" fill-opacity="0.8"/>
<circle cx="67.70" cy="341.90" r="3.20" fill="#5DB834" fill-opacity="0.8"/>
<circle cx="68.20" cy="351.00" r="3.20" fill="#5DB834" fill-opacity="0.8"/>
<circle cx="67.70" cy="354.40" r="3.00" fill="#5DB834" fill-opacity="0.8"/>
<circle cx="71.70" cy="347.60" r="3.00" fill="#5DB834" fill-opacity="0.8"/>
<circle cx="65.70" cy="342.40" r="3.00" fill="#5DB834" fill-opacity="0.8"/>
<circle cx="62.00" cy="336.00" r="3.00" fill="#5DB834" fill-opacity="0.8"/>
<circle cx="64.00" cy="330.00" r="3.00" fill="#5DB834" fill-opacity="0.8"/>
<circle cx="70.00" cy="333.00" r="3.00" fill="#5DB834" fill-opacity="0.8"/>
<circle cx="71.00" cy="341.00" r="3.00" fill="#5DB834" fill-opacity="0.8"/>
<circle cx="64.00" cy="349.00" r="3.00" fill="#5DB834" fill-opacity="0.8"/>
<circle cx="70.50" cy="352.00" r="3.00" fill="#5DB834" fill-opacity="0.8"/>
<circle cx="69.00" cy="328.00" r="3.00" fill="#5DB834" fill-opacity="0.8"/>
<circle cx="65.00" cy="336.00" r="3.00" fill="#5DB834" fill-opacity="0.8"/>
<circle cx="71.00" cy="345.00" r="3.00" fill="#5DB834" fill-opacity="0.8"/>
<circle cx="69.00" cy="356.00" r="3.00" fill="#5DB834" fill-opacity="0.8"/>
<circle cx="59.90" cy="346.60" r="3.20" fill="#5DB834" fill-opacity="0.8"/>
<circle cx="63.00" cy="342.00" r="3.00" fill="#5DB834" fill-opacity="0.8"/>
<circle cx="84.06" cy="342.67" r="3.20" fill="#E8191E" fill-opacity="0.5"/>
<circle cx="86.03" cy="321.88" r="3.20" fill="#E8191E" fill-opacity="0.5"/>
<circle cx="84.20" cy="346.29" r="3.20" fill="#E8191E" fill-opacity="0.5"/>
<circle cx="92.61" cy="340.14" r="3.20" fill="#E8191E" fill-opacity="0.5"/>
<circle cx="86.32" cy="324.72" r="3.20" fill="#E8191E" fill-opacity="0.5"/>
<circle cx="86.44" cy="332.54" r="3.20" fill="#E8191E" fill-opacity="0.5"/>
<circle cx="84.99" cy="332.05" r="3.20" fill="#E8191E" fill-opacity="0.5"/>
<circle cx="86.12" cy="350.62" r="3.20" fill="#E8191E" fill-opacity="0.5"/>
<circle cx="93.71" cy="335.69" r="3.20" fill="#E8191E" fill-opacity="0.5"/>
<circle cx="85.92" cy="350.76" r="3.20" fill="#E8191E" fill-opacity="0.5"/>
<circle cx="86.61" cy="328.84" r="3.20" fill="#E8191E" fill-opacity="0.5"/>
<circle cx="83.31" cy="329.74" r="3.20" fill="#E8191E" fill-opacity="0.5"/>
<circle cx="88.38" cy="334.10" r="3.20" fill="#E8191E" fill-opacity="0.5"/>
<circle cx="85.45" cy="334.17" r="3.20" fill="#E8191E" fill-opacity="0.5"/>
<circle cx="83.35" cy="325.51" r="3.20" fill="#E8191E" fill-opacity="0.5"/>
<circle cx="84.26" cy="330.38" r="3.20" fill="#E8191E" fill-opacity="0.5"/>
<circle cx="83.75" cy="316.81" r="3.20" fill="#E8191E" fill-opacity="0.5"/>
<circle cx="86.56" cy="324.38" r="3.20" fill="#E8191E" fill-opacity="0.5"/>
<circle cx="89.57" cy="335.05" r="3.20" fill="#E8191E" fill-opacity="0.5"/>
<circle cx="91.33" cy="339.67" r="3.20" fill="#E8191E" fill-opacity="0.5"/>
<circle cx="90.96" cy="347.65" r="3.20" fill="#E8191E" fill-opacity="0.5"/>
<circle cx="87.47" cy="327.74" r="3.20" fill="#E8191E" fill-opacity="0.5"/>
<circle cx="91.05" cy="339.16" r="3.20" fill="#E8191E" fill-opacity="0.5"/>
<circle cx="83.77" cy="346.07" r="3.20" fill="#E8191E" fill-opacity="0.5"/>
<circle cx="92.84" cy="338.58" r="3.20" fill="#E8191E" fill-opacity="0.5"/>
<circle cx="91.15" cy="345.24" r="3.20" fill="#E8191E" fill-opacity="0.5"/>
<circle cx="84.79" cy="334.86" r="3.20" fill="#E8191E" fill-opacity="0.5"/>
<circle cx="88.70" cy="346.06" r="3.20" fill="#E8191E" fill-opacity="0.5"/>
<circle cx="91.91" cy="345.75" r="3.20" fill="#E8191E" fill-opacity="0.5"/>
<circle cx="89.55" cy="348.14" r="3.20" fill="#E8191E" fill-opacity="0.5"/>
<circle cx="90.61" cy="340.96" r="3.20" fill="#E8191E" fill-opacity="0.5"/>
<circle cx="84.72" cy="328.99" r="3.20" fill="#E8191E" fill-opacity="0.5"/>
<circle cx="84.42" cy="346.09" r="3.20" fill="#E8191E" fill-opacity="0.5"/>
<circle cx="89.28" cy="338.60" r="3.20" fill="#E8191E" fill-opacity="0.5"/>
<circle cx="90.00" cy="340.50" r="3.20" fill="#E8191E" fill-opacity="0.5"/>
<circle cx="91.84" cy="342.94" r="3.20" fill="#E8191E" fill-opacity="0.5"/>
<circle cx="88.68" cy="335.27" r="3.20" fill="#E8191E" fill-opacity="0.5"/>
<circle cx="84.10" cy="325.56" r="3.20" fill="#E8191E" fill-opacity="0.5"/>
<circle cx="88.59" cy="329.77" r="3.20" fill="#E8191E" fill-opacity="0.5"/>
<circle cx="88.43" cy="340.61" r="3.20" fill="#E8191E" fill-opacity="0.5"/>
<circle cx="91.51" cy="338.21" r="3.20" fill="#E8191E" fill-opacity="0.5"/>
<circle cx="84.88" cy="325.14" r="3.20" fill="#E8191E" fill-opacity="0.5"/>
<circle cx="83.95" cy="325.68" r="3.20" fill="#E8191E" fill-opacity="0.5"/>
<circle cx="90.49" cy="340.92" r="3.20" fill="#E8191E" fill-opacity="0.5"/>
<circle cx="88.83" cy="332.73" r="3.20" fill="#E8191E" fill-opacity="0.5"/>
<circle cx="83.49" cy="332.52" r="3.20" fill="#E8191E" fill-opacity="0.5"/>
<circle cx="88.11" cy="325.67" r="3.20" fill="#E8191E" fill-opacity="0.5"/>
<circle cx="85.55" cy="350.04" r="3.20" fill="#E8191E" fill-opacity="0.5"/>
<circle cx="85.55" cy="336.93" r="3.20" fill="#E8191E" fill-opacity="0.5"/>
<circle cx="84.82" cy="334.87" r="3.20" fill="#E8191E" fill-opacity="0.5"/>
<circle cx="92.08" cy="334.31" r="3.20" fill="#E8191E" fill-opacity="0.5"/>
<circle cx="92.79" cy="341.32" r="3.20" fill="#E8191E" fill-opacity="0.5"/>
<circle cx="85.78" cy="348.32" r="3.20" fill="#E8191E" fill-opacity="0.5"/>
<circle cx="83.34" cy="333.70" r="3.20" fill="#E8191E" fill-opacity="0.5"/>
<circle cx="88.12" cy="326.87" r="3.20" fill="#E8191E" fill-opacity="0.5"/>
<circle cx="84.81" cy="328.38" r="3.20" fill="#E8191E" fill-opacity="0.5"/>
<circle cx="86.68" cy="346.25" r="3.20" fill="#E8191E" fill-opacity="0.5"/>
<circle cx="93.21" cy="341.67" r="3.20" fill="#E8191E" fill-opacity="0.5"/>
<circle cx="87.28" cy="330.14" r="3.20" fill="#E8191E" fill-opacity="0.5"/>
<circle cx="93.99" cy="337.21" r="3.20" fill="#E8191E" fill-opacity="0.5"/>
<circle cx="87.16" cy="331.41" r="3.20" fill="#E8191E" fill-opacity="0.5"/>
<circle cx="84.39" cy="346.05" r="3.20" fill="#E8191E" fill-opacity="0.5"/>
<circle cx="86.36" cy="349.68" r="3.20" fill="#E8191E" fill-opacity="0.5"/>
<circle cx="85.97" cy="325.57" r="3.20" fill="#E8191E" fill-opacity="0.5"/>
<circle cx="87.29" cy="350.42" r="3.20" fill="#E8191E" fill-opacity="0.5"/>
<circle cx="92.76" cy="345.23" r="3.20" fill="#E8191E" fill-opacity="0.5"/>
<circle cx="90.05" cy="348.88" r="3.20" fill="#E8191E" fill-opacity="0.5"/>
<circle cx="93.37" cy="335.77" r="3.20" fill="#E8191E" fill-opacity="0.5"/>
<circle cx="91.14" cy="332.23" r="3.20" fill="#E8191E" fill-opacity="0.5"/>
<circle cx="91.35" cy="339.20" r="3.20" fill="#E8191E" fill-opacity="0.5"/>
<circle cx="88.35" cy="328.37" r="3.20" fill="#E8191E" fill-opacity="0.5"/>
<circle cx="86.49" cy="342.61" r="3.20" fill="#E8191E" fill-opacity="0.5"/>
<circle cx="90.32" cy="326.83" r="3.20" fill="#E8191E" fill-opacity="0.5"/>
<circle cx="89.26" cy="330.20" r="3.20" fill="#E8191E" fill-opacity="0.5"/>
<circle cx="85.09" cy="321.82" r="3.20" fill="#E8191E" fill-opacity="0.5"/>
<circle cx="85.52" cy="348.61" r="3.20" fill="#E8191E" fill-opacity="0.5"/>
<circle cx="88.62" cy="323.92" r="3.20" fill="#E8191E" fill-opacity="0.5"/>
<circle cx="85.36" cy="319.27" r="3.20" fill="#E8191E" fill-opacity="0.5"/>
<circle cx="85.86" cy="325.30" r="3.20" fill="#E8191E" fill-opacity="0.5"/>
<circle cx="89.39" cy="347.94" r="3.20" fill="#E8191E" fill-opacity="0.5"/>
<circle cx="91.32" cy="330.86" r="3.20" fill="#E8191E" fill-opacity="0.5"/>
<circle cx="87.73" cy="334.87" r="3.20" fill="#E8191E" fill-opacity="0.5"/>
<circle cx="87.33" cy="328.18" r="3.20" fill="#E8191E" fill-opacity="0.5"/>
<circle cx="83.96" cy="325.99" r="3.20" fill="#E8191E" fill-opacity="0.5"/>
<circle cx="88.69" cy="338.67" r="3.20" fill="#E8191E" fill-opacity="0.5"/>
<circle cx="86.20" cy="324.94" r="3.20" fill="#E8191E" fill-opacity="0.5"/>
<circle cx="87.58" cy="332.05" r="3.20" fill="#E8191E" fill-opacity="0.5"/>
<circle cx="83.65" cy="341.54" r="3.20" fill="#E8191E" fill-opacity="0.5"/>
<circle cx="92.88" cy="333.04" r="3.20" fill="#E8191E" fill-opacity="0.5"/>
<circle cx="87.49" cy="349.37" r="3.20" fill="#E8191E" fill-opacity="0.5"/>
<circle cx="92.13" cy="346.80" r="3.20" fill="#E8191E" fill-opacity="0.5"/>
<circle cx="84.47" cy="321.56" r="3.20" fill="#E8191E" fill-opacity="0.5"/>
<circle cx="88.89" cy="340.55" r="3.20" fill="#E8191E" fill-opacity="0.5"/>
<circle cx="93.37" cy="341.98" r="3.20" fill="#E8191E" fill-opacity="0.5"/>
<circle cx="90.23" cy="343.53" r="3.20" fill="#E8191E" fill-opacity="0.5"/>
<circle cx="88.19" cy="335.85" r="3.20" fill="#E8191E" fill-opacity="0.5"/>
<circle cx="83.72" cy="344.16" r="3.20" fill="#E8191E" fill-opacity="0.5"/>
<circle cx="85.79" cy="349.12" r="3.20" fill="#E8191E" fill-opacity="0.5"/>
<circle cx="90.21" cy="326.94" r="3.20" fill="#E8191E" fill-opacity="0.5"/>
<circle cx="84.67" cy="325.06" r="3.20" fill="#E8191E" fill-opacity="0.5"/>
<circle cx="90.11" cy="341.15" r="3.20" fill="#E8191E" fill-opacity="0.5"/>
<circle cx="84.50" cy="318.53" r="3.20" fill="#E8191E" fill-opacity="0.5"/>
<circle cx="88.91" cy="336.98" r="3.20" fill="#E8191E" fill-opacity="0.5"/>
<circle cx="87.45" cy="324.05" r="3.20" fill="#E8191E" fill-opacity="0.5"/>
<circle cx="86.53" cy="332.58" r="3.20" fill="#E8191E" fill-opacity="0.5"/>
<circle cx="93.56" cy="339.20" r="3.20" fill="#E8191E" fill-opacity="0.5"/>
<circle cx="92.76" cy="333.11" r="3.20" fill="#E8191E" fill-opacity="0.5"/>
<circle cx="85.81" cy="324.89" r="3.20" fill="#E8191E" fill-opacity="0.5"/>
<circle cx="93.58" cy="341.37" r="3.20" fill="#E8191E" fill-opacity="0.5"/>
<circle cx="88.63" cy="340.28" r="3.20" fill="#E8191E" fill-opacity="0.5"/>
<circle cx="87.79" cy="325.26" r="3.20" fill="#E8191E" fill-opacity="0.5"/>
<circle cx="90.44" cy="349.31" r="3.20" fill="#E8191E" fill-opacity="0.5"/>
<circle cx="86.92" cy="331.14" r="3.20" fill="#E8191E" fill-opacity="0.5"/>
<circle cx="91.83" cy="342.61" r="3.20" fill="#E8191E" fill-opacity="0.5"/>
<circle cx="85.67" cy="343.38" r="3.20" fill="#E8191E" fill-opacity="0.5"/>
<circle cx="86.46" cy="350.27" r="3.20" fill="#E8191E" fill-opacity="0.5"/>
<circle cx="85.69" cy="331.01" r="3.20" fill="#E8191E" fill-opacity="0.5"/>
<circle cx="90.42" cy="350.16" r="3.20" fill="#E8191E" fill-opacity="0.5"/>
<circle cx="84.87" cy="330.16" r="3.20" fill="#E8191E" fill-opacity="0.5"/>
<circle cx="85.58" cy="351.07" r="3.20" fill="#E8191E" fill-opacity="0.5"/>
<circle cx="84.82" cy="317.87" r="3.20" fill="#E8191E" fill-opacity="0.5"/>
<circle cx="83.94" cy="330.16" r="3.20" fill="#E8191E" fill-opacity="0.5"/>
<circle cx="85.28" cy="349.69" r="3.20" fill="#E8191E" fill-opacity="0.5"/>
<circle cx="90.41" cy="329.63" r="3.20" fill="#E8191E" fill-opacity="0.5"/>
<circle cx="87.30" cy="327.94" r="3.20" fill="#E8191E" fill-opacity="0.5"/>
<circle cx="86.29" cy="328.65" r="3.20" fill="#E8191E" fill-opacity="0.5"/>
<circle cx="87.12" cy="345.58" r="3.20" fill="#E8191E" fill-opacity="0.5"/>
<circle cx="92.10" cy="331.57" r="3.20" fill="#E8191E" fill-opacity="0.5"/>
<circle cx="83.83" cy="333.04" r="3.20" fill="#E8191E" fill-opacity="0.5"/>
<circle cx="87.29" cy="349.10" r="3.20" fill="#E8191E" fill-opacity="0.5"/>
<circle cx="87.67" cy="331.11" r="3.20" fill="#E8191E" fill-opacity="0.45"/>
<circle cx="91.81" cy="347.23" r="3.20" fill="#E8191E" fill-opacity="0.45"/>
<circle cx="84.66" cy="320.25" r="3.20" fill="#E8191E" fill-opacity="0.45"/>
<circle cx="101.48" cy="327.25" r="3.20" fill="#E8191E" fill-opacity="0.45"/>
<circle cx="98.20" cy="350.35" r="3.20" fill="#E8191E" fill-opacity="0.45"/>
<circle cx="90.44" cy="327.80" r="3.20" fill="#E8191E" fill-opacity="0.45"/>
<circle cx="102.20" cy="340.21" r="3.20" fill="#E8191E" fill-opacity="0.45"/>
<circle cx="88.98" cy="343.80" r="3.20" fill="#E8191E" fill-opacity="0.45"/>
<circle cx="90.01" cy="327.92" r="3.20" fill="#E8191E" fill-opacity="0.45"/>
<circle cx="101.41" cy="340.82" r="3.20" fill="#E8191E" fill-opacity="0.45"/>
<circle cx="88.44" cy="335.11" r="3.20" fill="#E8191E" fill-opacity="0.45"/>
<circle cx="91.34" cy="327.04" r="3.20" fill="#E8191E" fill-opacity="0.45"/>
<circle cx="92.17" cy="335.77" r="3.20" fill="#E8191E" fill-opacity="0.45"/>
<circle cx="99.25" cy="344.59" r="3.20" fill="#E8191E" fill-opacity="0.45"/>
<circle cx="99.63" cy="345.82" r="3.20" fill="#E8191E" fill-opacity="0.45"/>
<circle cx="95.54" cy="329.80" r="3.20" fill="#E8191E" fill-opacity="0.45"/>
<circle cx="90.07" cy="331.03" r="3.20" fill="#E8191E" fill-opacity="0.45"/>
<circle cx="87.75" cy="345.10" r="3.20" fill="#E8191E" fill-opacity="0.45"/>
<circle cx="88.70" cy="320.33" r="3.20" fill="#E8191E" fill-opacity="0.45"/>
<circle cx="90.19" cy="353.29" r="3.20" fill="#E8191E" fill-opacity="0.45"/>
<circle cx="89.03" cy="321.03" r="3.20" fill="#E8191E" fill-opacity="0.45"/>
<circle cx="85.83" cy="335.95" r="3.20" fill="#E8191E" fill-opacity="0.45"/>
<circle cx="97.49" cy="334.09" r="3.20" fill="#E8191E" fill-opacity="0.45"/>
<circle cx="88.45" cy="333.01" r="3.20" fill="#E8191E" fill-opacity="0.45"/>
<circle cx="95.79" cy="342.27" r="3.20" fill="#E8191E" fill-opacity="0.45"/>
<circle cx="98.21" cy="348.49" r="3.20" fill="#E8191E" fill-opacity="0.45"/>
<circle cx="96.62" cy="322.36" r="3.20" fill="#E8191E" fill-opacity="0.45"/>
<circle cx="99.98" cy="328.58" r="3.20" fill="#E8191E" fill-opacity="0.45"/>
<circle cx="94.77" cy="331.43" r="3.20" fill="#E8191E" fill-opacity="0.45"/>
<circle cx="98.02" cy="325.17" r="3.20" fill="#E8191E" fill-opacity="0.45"/>
<circle cx="88.70" cy="326.83" r="3.20" fill="#E8191E" fill-opacity="0.45"/>
<circle cx="86.91" cy="349.83" r="3.20" fill="#E8191E" fill-opacity="0.45"/>
<circle cx="94.99" cy="329.75" r="3.20" fill="#E8191E" fill-opacity="0.45"/>
<circle cx="91.53" cy="353.73" r="3.20" fill="#E8191E" fill-opacity="0.45"/>
<circle cx="93.64" cy="326.33" r="3.20" fill="#E8191E" fill-opacity="0.45"/>
<circle cx="99.36" cy="341.52" r="3.20" fill="#E8191E" fill-opacity="0.45"/>
<circle cx="93.02" cy="347.49" r="3.20" fill="#E8191E" fill-opacity="0.45"/>
<circle cx="84.77" cy="328.57" r="3.20" fill="#E8191E" fill-opacity="0.45"/>
<circle cx="86.27" cy="324.82" r="3.20" fill="#E8191E" fill-opacity="0.45"/>
<circle cx="101.67" cy="331.40" r="3.20" fill="#E8191E" fill-opacity="0.45"/>
<circle cx="100.46" cy="334.17" r="3.20" fill="#E8191E" fill-opacity="0.45"/>
<circle cx="88.94" cy="346.00" r="3.20" fill="#E8191E" fill-opacity="0.45"/>
<circle cx="95.33" cy="340.32" r="3.20" fill="#E8191E" fill-opacity="0.45"/>
<circle cx="88.14" cy="331.27" r="3.20" fill="#E8191E" fill-opacity="0.45"/>
<circle cx="86.69" cy="325.34" r="3.20" fill="#E8191E" fill-opacity="0.45"/>
<circle cx="82.30" cy="293.60" r="3.20" fill="#E8191E" fill-opacity="0.7"/>
<circle cx="86.30" cy="292.70" r="3.20" fill="#E8191E" fill-opacity="0.7"/>
<circle cx="84.50" cy="297.00" r="3.20" fill="#E8191E" fill-opacity="0.7"/>
<circle cx="113.10" cy="293.60" r="3.20" fill="#E8191E" fill-opacity="0.7"/>
<circle cx="111.10" cy="300.40" r="3.20" fill="#E8191E" fill-opacity="0.7"/>
<circle cx="93.60" cy="303.00" r="3.20" fill="#E8191E" fill-opacity="0.7"/>
<circle cx="100.80" cy="303.00" r="3.20" fill="#E8191E" fill-opacity="0.7"/>
<circle cx="125.60" cy="307.20" r="3.20" fill="#E8191E" fill-opacity="0.7"/>
<circle cx="100.80" cy="309.50" r="3.20" fill="#E8191E" fill-opacity="0.7"/>
<circle cx="112.40" cy="311.50" r="3.20" fill="#E8191E" fill-opacity="0.7"/>
<circle cx="82.80" cy="315.40" r="3.20" fill="#E8191E" fill-opacity="0.7"/>
<circle cx="100.80" cy="314.90" r="3.20" fill="#E8191E" fill-opacity="0.7"/>
<circle cx="103.40" cy="315.80" r="3.20" fill="#E8191E" fill-opacity="0.7"/>
<circle cx="84.50" cy="318.40" r="3.20" fill="#E8191E" fill-opacity="0.7"/>
<circle cx="108.50" cy="320.60" r="3.20" fill="#E8191E" fill-opacity="0.7"/>
<circle cx="99.90" cy="321.80" r="3.20" fill="#E8191E" fill-opacity="0.7"/>
<circle cx="103.40" cy="324.30" r="3.20" fill="#E8191E" fill-opacity="0.7"/>
<circle cx="111.10" cy="327.80" r="3.20" fill="#E8191E" fill-opacity="0.7"/>
<circle cx="105.10" cy="329.80" r="3.20" fill="#E8191E" fill-opacity="0.7"/>
<circle cx="124.40" cy="333.80" r="3.20" fill="#E8191E" fill-opacity="0.7"/>
<circle cx="111.10" cy="338.00" r="3.20" fill="#E8191E" fill-opacity="0.7"/>
<circle cx="105.10" cy="336.30" r="3.20" fill="#E8191E" fill-opacity="0.7"/>
<circle cx="108.50" cy="343.20" r="3.20" fill="#E8191E" fill-opacity="0.7"/>
<circle cx="103.40" cy="347.40" r="3.20" fill="#E8191E" fill-opacity="0.7"/>
<circle cx="125.10" cy="347.10" r="3.20" fill="#E8191E" fill-opacity="0.7"/>
<circle cx="95.70" cy="353.40" r="3.20" fill="#E8191E" fill-opacity="0.7"/>
<circle cx="89.70" cy="353.40" r="3.20" fill="#E8191E" fill-opacity="0.7"/>
<circle cx="100.00" cy="326.00" r="3.20" fill="#E8191E" fill-opacity="0.7"/>
<circle cx="101.00" cy="333.00" r="3.20" fill="#E8191E" fill-opacity="0.7"/>
<circle cx="100.00" cy="340.00" r="3.20" fill="#E8191E" fill-opacity="0.7"/>
<circle cx="99.00" cy="347.00" r="3.20" fill="#E8191E" fill-opacity="0.7"/>
<circle cx="97.00" cy="352.00" r="3.20" fill="#E8191E" fill-opacity="0.7"/>
<circle cx="92.00" cy="355.00" r="3.20" fill="#E8191E" fill-opacity="0.7"/>
<circle cx="86.00" cy="355.50" r="3.20" fill="#E8191E" fill-opacity="0.7"/>
<circle cx="100.50" cy="318.00" r="3.20" fill="#E8191E" fill-opacity="0.7"/>
<circle cx="96.00" cy="323.00" r="3.20" fill="#E8191E" fill-opacity="0.7"/>
<circle cx="106.00" cy="318.00" r="3.20" fill="#E8191E" fill-opacity="0.7"/>
<circle cx="107.00" cy="332.00" r="3.20" fill="#E8191E" fill-opacity="0.7"/>
<circle cx="104.00" cy="340.00" r="3.20" fill="#E8191E" fill-opacity="0.7"/>
<circle cx="97.00" cy="315.00" r="3.20" fill="#E8191E" fill-opacity="0.7"/>
</g>
<rect x="21.30" y="258.80" width="112.30" height="149.20" fill="none" stroke="#808080" stroke-width="1.0"/>
<text x="43.40" y="274.60" font-size="6.9" fill="#3DAA3D" text-anchor="middle" stroke="#3DAA3D" stroke-width="0.2">28</text>
<text x="43.40" y="283.10" font-size="6.9" fill="#3DAA3D" text-anchor="middle" stroke="#3DAA3D" stroke-width="0.2">DOWN</text>
<text x="112.10" y="274.30" font-size="6.9" fill="#E8182A" text-anchor="middle" stroke="#E8182A" stroke-width="0.2">91</text>
<text x="112.10" y="282.80" font-size="6.9" fill="#E8182A" text-anchor="middle" stroke="#E8182A" stroke-width="0.2">UP</text>
<line x1="19.40" y1="400.90" x2="21.30" y2="400.90" stroke="#333" stroke-width="0.9"/>
<text x="18.90" y="403.50" font-size="7.5" fill="#333" text-anchor="end" stroke="#333" stroke-width="0.2">0</text>
<line x1="19.40" y1="365.40" x2="21.30" y2="365.40" stroke="#333" stroke-width="0.9"/>
<text x="18.90" y="368.00" font-size="7.5" fill="#333" text-anchor="end" stroke="#333" stroke-width="0.2">1</text>
<line x1="19.40" y1="329.90" x2="21.30" y2="329.90" stroke="#333" stroke-width="0.9"/>
<text x="18.90" y="332.50" font-size="7.5" fill="#333" text-anchor="end" stroke="#333" stroke-width="0.2">2</text>
<line x1="19.40" y1="294.40" x2="21.30" y2="294.40" stroke="#333" stroke-width="0.9"/>
<text x="18.90" y="297.00" font-size="7.5" fill="#333" text-anchor="end" stroke="#333" stroke-width="0.2">3</text>
<line x1="19.40" y1="258.90" x2="21.30" y2="258.90" stroke="#333" stroke-width="0.9"/>
<text x="18.90" y="261.50" font-size="7.5" fill="#333" text-anchor="end" stroke="#333" stroke-width="0.2">4</text>
<line x1="44.00" y1="408.00" x2="44.00" y2="409.90" stroke="#333" stroke-width="0.9"/>
<text x="44.00" y="417.00" font-size="7.5" fill="#333" text-anchor="middle" stroke="#333" stroke-width="0.2">-2</text>
<line x1="77.80" y1="408.00" x2="77.80" y2="409.90" stroke="#333" stroke-width="0.9"/>
<text x="77.80" y="417.00" font-size="7.5" fill="#333" text-anchor="middle" stroke="#333" stroke-width="0.2">0</text>
<line x1="111.60" y1="408.00" x2="111.60" y2="409.90" stroke="#333" stroke-width="0.9"/>
<text x="111.60" y="417.00" font-size="7.5" fill="#333" text-anchor="middle" stroke="#333" stroke-width="0.2">2</text>
<text x="78.10" y="426.80" font-size="9.2" fill="#222" text-anchor="middle" stroke="#222" stroke-width="0.2">Log2 FC</text>
<text x="9.30" y="329.40" font-size="9.3" fill="#222" text-anchor="middle" transform="rotate(-90 9.30 329.40)" stroke="#222" stroke-width="0.2">- Log10(pvalue)</text>
<text x="142.90" y="296.10" font-size="6.95" fill="#222" text-anchor="start" stroke="#222" stroke-width="0.2">DE_Meta</text>
<circle cx="145.70" cy="304.40" r="1.30" fill="#E41A1C"/>
<text x="150.80" y="306.80" font-size="6.95" fill="#222" text-anchor="start" stroke="#222" stroke-width="0.2">UP</text>
<circle cx="145.70" cy="313.70" r="1.30" fill="#4DAF4A"/>
<text x="150.80" y="316.10" font-size="6.95" fill="#222" text-anchor="start" stroke="#222" stroke-width="0.2">DOWN</text>
<circle cx="145.70" cy="322.40" r="1.30" fill="#BEBEBE"/>
<text x="150.80" y="324.80" font-size="6.95" fill="#222" text-anchor="start" stroke="#222" stroke-width="0.2">NoDiff</text>
<text x="143.10" y="342.60" font-size="6.95" fill="#222" text-anchor="start" stroke="#222" stroke-width="0.2">VIP</text>
<circle cx="145.40" cy="350.60" r="2.30" fill="#000"/>
<text x="150.70" y="353.00" font-size="6.95" fill="#222" text-anchor="start" stroke="#222" stroke-width="0.2">0.5</text>
<circle cx="145.40" cy="359.50" r="2.70" fill="#000"/>
<text x="150.70" y="361.90" font-size="6.95" fill="#222" text-anchor="start" stroke="#222" stroke-width="0.2">1.0</text>
<circle cx="145.40" cy="368.60" r="3.40" fill="#000"/>
<text x="150.70" y="371.00" font-size="6.95" fill="#222" text-anchor="start" stroke="#222" stroke-width="0.2">1.5</text>
<text x="168.10" y="248.80" font-size="12.6" fill="#1a1414" text-anchor="start" font-weight="bold">D</text>
<line x1="222.30" y1="234.50" x2="222.30" y2="342.30" stroke="#111" stroke-width="1.1"/>
<line x1="222.30" y1="357.00" x2="222.30" y2="401.70" stroke="#111" stroke-width="1.1"/>
<line x1="216.00" y1="401.70" x2="519.90" y2="401.70" stroke="#111" stroke-width="1.1"/>
<line x1="218.40" y1="339.40" x2="226.90" y2="347.90" stroke="#111" stroke-width="1.1"/>
<line x1="218.10" y1="350.90" x2="226.30" y2="359.20" stroke="#111" stroke-width="1.1"/>
<line x1="216.00" y1="243.50" x2="222.30" y2="243.50" stroke="#111" stroke-width="1.1"/>
<text x="213.60" y="246.40" font-size="8.7" fill="#222" text-anchor="end" stroke="#222" stroke-width="0.2">1.4</text>
<line x1="216.00" y1="261.50" x2="222.30" y2="261.50" stroke="#111" stroke-width="1.1"/>
<text x="213.60" y="264.40" font-size="8.7" fill="#222" text-anchor="end" stroke="#222" stroke-width="0.2">1.2</text>
<line x1="216.00" y1="279.50" x2="222.30" y2="279.50" stroke="#111" stroke-width="1.1"/>
<text x="213.60" y="282.40" font-size="8.7" fill="#222" text-anchor="end" stroke="#222" stroke-width="0.2">1.0</text>
<line x1="216.00" y1="297.50" x2="222.30" y2="297.50" stroke="#111" stroke-width="1.1"/>
<text x="213.60" y="300.40" font-size="8.7" fill="#222" text-anchor="end" stroke="#222" stroke-width="0.2">0.8</text>
<line x1="216.00" y1="315.50" x2="222.30" y2="315.50" stroke="#111" stroke-width="1.1"/>
<text x="213.60" y="318.40" font-size="8.7" fill="#222" text-anchor="end" stroke="#222" stroke-width="0.2">0.6</text>
<line x1="216.00" y1="333.50" x2="222.30" y2="333.50" stroke="#111" stroke-width="1.1"/>
<text x="213.60" y="336.40" font-size="8.7" fill="#222" text-anchor="end" stroke="#222" stroke-width="0.2">0.4</text>
<text x="213.90" y="358.90" font-size="9.1" fill="#222" text-anchor="end" stroke="#222" stroke-width="0.2">0.020</text>
<line x1="216.00" y1="367.20" x2="222.30" y2="367.20" stroke="#111" stroke-width="1.1"/>
<text x="213.90" y="370.40" font-size="9.1" fill="#222" text-anchor="end" stroke="#222" stroke-width="0.2">0.015</text>
<line x1="216.00" y1="378.70" x2="222.30" y2="378.70" stroke="#111" stroke-width="1.1"/>
<text x="213.90" y="381.90" font-size="9.1" fill="#222" text-anchor="end" stroke="#222" stroke-width="0.2">0.010</text>
<line x1="216.00" y1="390.20" x2="222.30" y2="390.20" stroke="#111" stroke-width="1.1"/>
<text x="213.90" y="393.40" font-size="9.1" fill="#222" text-anchor="end" stroke="#222" stroke-width="0.2">0.005</text>
<text x="213.90" y="404.90" font-size="9.1" fill="#222" text-anchor="end" stroke="#222" stroke-width="0.2">0.000</text>
<text x="187.00" y="328.00" font-size="9.25" fill="#222" text-anchor="middle" transform="rotate(-90 187.00 328.00)" stroke="#222" stroke-width="0.2">Luminescence(Relative to positive group)</text>
<path d="M237.90,342.4 V281.00 H245.20 V342.4" fill="none" stroke="#F3AE6A" stroke-width="1.1"/>
<line x1="237.90" y1="355.40" x2="237.90" y2="401.70" stroke="#F3AE6A" stroke-width="1.1"/>
<line x1="245.20" y1="355.40" x2="245.20" y2="401.70" stroke="#F3AE6A" stroke-width="1.1"/>
<line x1="241.55" y1="281.00" x2="241.55" y2="271.90" stroke="#F3AE6A" stroke-width="1.0"/>
<line x1="239.95" y1="271.90" x2="243.15" y2="271.90" stroke="#F3AE6A" stroke-width="1.0"/>
<circle cx="241.55" cy="271.90" r="1.75" fill="#fff" stroke="#F3AE6A" stroke-width="0.9"/>
<circle cx="239.55" cy="285.60" r="1.75" fill="#fff" stroke="#F3AE6A" stroke-width="0.9"/>
<circle cx="243.55" cy="283.20" r="1.75" fill="#fff" stroke="#F3AE6A" stroke-width="0.9"/>
<path d="M249.50,342.4 V270.10 H256.80 V342.4" fill="none" stroke="#5B90D8" stroke-width="1.1"/>
<line x1="249.50" y1="355.40" x2="249.50" y2="401.70" stroke="#5B90D8" stroke-width="1.1"/>
<line x1="256.80" y1="355.40" x2="256.80" y2="401.70" stroke="#5B90D8" stroke-width="1.1"/>
<line x1="253.15" y1="270.10" x2="253.15" y2="258.60" stroke="#5B90D8" stroke-width="1.0"/>
<line x1="251.55" y1="258.60" x2="254.75" y2="258.60" stroke="#5B90D8" stroke-width="1.0"/>
<circle cx="253.15" cy="258.60" r="1.75" fill="#fff" stroke="#5B90D8" stroke-width="0.9"/>
<circle cx="253.15" cy="272.50" r="1.75" fill="#fff" stroke="#5B90D8" stroke-width="0.9"/>
<circle cx="253.15" cy="277.90" r="1.75" fill="#fff" stroke="#5B90D8" stroke-width="0.9"/>
<path d="M261.10,342.4 V277.00 H268.40 V342.4" fill="none" stroke="#5B90D8" stroke-width="1.1"/>
<line x1="261.10" y1="355.40" x2="261.10" y2="401.70" stroke="#5B90D8" stroke-width="1.1"/>
<line x1="268.40" y1="355.40" x2="268.40" y2="401.70" stroke="#5B90D8" stroke-width="1.1"/>
<line x1="264.75" y1="277.00" x2="264.75" y2="268.60" stroke="#5B90D8" stroke-width="1.0"/>
<line x1="263.15" y1="268.60" x2="266.35" y2="268.60" stroke="#5B90D8" stroke-width="1.0"/>
<circle cx="264.75" cy="268.60" r="1.75" fill="#fff" stroke="#5B90D8" stroke-width="0.9"/>
<circle cx="264.75" cy="281.00" r="1.75" fill="#fff" stroke="#5B90D8" stroke-width="0.9"/>
<circle cx="264.75" cy="282.90" r="1.75" fill="#fff" stroke="#5B90D8" stroke-width="0.9"/>
<path d="M272.70,342.4 V298.00 H280.00 V342.4" fill="none" stroke="#5B90D8" stroke-width="1.1"/>
<line x1="272.70" y1="355.40" x2="272.70" y2="401.70" stroke="#5B90D8" stroke-width="1.1"/>
<line x1="280.00" y1="355.40" x2="280.00" y2="401.70" stroke="#5B90D8" stroke-width="1.1"/>
<line x1="276.35" y1="298.00" x2="276.35" y2="295.60" stroke="#5B90D8" stroke-width="1.0"/>
<line x1="274.75" y1="295.60" x2="277.95" y2="295.60" stroke="#5B90D8" stroke-width="1.0"/>
<circle cx="273.85" cy="295.60" r="1.75" fill="#fff" stroke="#5B90D8" stroke-width="0.9"/>
<circle cx="278.55" cy="295.60" r="1.75" fill="#fff" stroke="#5B90D8" stroke-width="0.9"/>
<circle cx="276.35" cy="299.30" r="1.75" fill="#fff" stroke="#5B90D8" stroke-width="0.9"/>
<path d="M284.30,342.4 V277.00 H291.60 V342.4" fill="none" stroke="#5B90D8" stroke-width="1.1"/>
<line x1="284.30" y1="355.40" x2="284.30" y2="401.70" stroke="#5B90D8" stroke-width="1.1"/>
<line x1="291.60" y1="355.40" x2="291.60" y2="401.70" stroke="#5B90D8" stroke-width="1.1"/>
<line x1="287.95" y1="277.00" x2="287.95" y2="271.00" stroke="#5B90D8" stroke-width="1.0"/>
<line x1="286.35" y1="271.00" x2="289.55" y2="271.00" stroke="#5B90D8" stroke-width="1.0"/>
<circle cx="287.95" cy="271.00" r="1.75" fill="#fff" stroke="#5B90D8" stroke-width="0.9"/>
<circle cx="287.95" cy="275.90" r="1.75" fill="#fff" stroke="#5B90D8" stroke-width="0.9"/>
<circle cx="287.95" cy="282.50" r="1.75" fill="#fff" stroke="#5B90D8" stroke-width="0.9"/>
<path d="M295.90,342.4 V281.00 H303.20 V342.4" fill="none" stroke="#5B90D8" stroke-width="1.1"/>
<line x1="295.90" y1="355.40" x2="295.90" y2="401.70" stroke="#5B90D8" stroke-width="1.1"/>
<line x1="303.20" y1="355.40" x2="303.20" y2="401.70" stroke="#5B90D8" stroke-width="1.1"/>
<line x1="299.55" y1="281.00" x2="299.55" y2="275.60" stroke="#5B90D8" stroke-width="1.0"/>
<line x1="297.95" y1="275.60" x2="301.15" y2="275.60" stroke="#5B90D8" stroke-width="1.0"/>
<circle cx="299.55" cy="275.60" r="1.75" fill="#fff" stroke="#5B90D8" stroke-width="0.9"/>
<circle cx="299.55" cy="278.70" r="1.75" fill="#fff" stroke="#5B90D8" stroke-width="0.9"/>
<circle cx="299.55" cy="286.90" r="1.75" fill="#fff" stroke="#5B90D8" stroke-width="0.9"/>
<path d="M307.50,342.4 V279.80 H314.80 V342.4" fill="none" stroke="#5B90D8" stroke-width="1.1"/>
<line x1="307.50" y1="355.40" x2="307.50" y2="401.70" stroke="#5B90D8" stroke-width="1.1"/>
<line x1="314.80" y1="355.40" x2="314.80" y2="401.70" stroke="#5B90D8" stroke-width="1.1"/>
<line x1="311.15" y1="279.80" x2="311.15" y2="271.90" stroke="#5B90D8" stroke-width="1.0"/>
<line x1="309.55" y1="271.90" x2="312.75" y2="271.90" stroke="#5B90D8" stroke-width="1.0"/>
<circle cx="311.15" cy="271.90" r="1.75" fill="#fff" stroke="#5B90D8" stroke-width="0.9"/>
<circle cx="311.15" cy="278.70" r="1.75" fill="#fff" stroke="#5B90D8" stroke-width="0.9"/>
<circle cx="311.15" cy="286.90" r="1.75" fill="#fff" stroke="#5B90D8" stroke-width="0.9"/>
<path d="M319.10,342.4 V332.10 H326.40 V342.4" fill="none" stroke="#5B90D8" stroke-width="1.1"/>
<line x1="319.10" y1="355.40" x2="319.10" y2="401.70" stroke="#5B90D8" stroke-width="1.1"/>
<line x1="326.40" y1="355.40" x2="326.40" y2="401.70" stroke="#5B90D8" stroke-width="1.1"/>
<line x1="322.75" y1="332.10" x2="322.75" y2="330.10" stroke="#5B90D8" stroke-width="1.0"/>
<line x1="321.15" y1="330.10" x2="324.35" y2="330.10" stroke="#5B90D8" stroke-width="1.0"/>
<circle cx="320.75" cy="330.10" r="1.75" fill="#fff" stroke="#5B90D8" stroke-width="0.9"/>
<circle cx="324.75" cy="332.10" r="1.75" fill="#fff" stroke="#5B90D8" stroke-width="0.9"/>
<circle cx="321.25" cy="336.00" r="1.75" fill="#fff" stroke="#5B90D8" stroke-width="0.9"/>
<path d="M330.70,342.4 V278.70 H338.00 V342.4" fill="none" stroke="#5B90D8" stroke-width="1.1"/>
<line x1="330.70" y1="355.40" x2="330.70" y2="401.70" stroke="#5B90D8" stroke-width="1.1"/>
<line x1="338.00" y1="355.40" x2="338.00" y2="401.70" stroke="#5B90D8" stroke-width="1.1"/>
<line x1="334.35" y1="278.70" x2="334.35" y2="273.20" stroke="#5B90D8" stroke-width="1.0"/>
<line x1="332.75" y1="273.20" x2="335.95" y2="273.20" stroke="#5B90D8" stroke-width="1.0"/>
<circle cx="334.35" cy="273.20" r="1.75" fill="#fff" stroke="#5B90D8" stroke-width="0.9"/>
<circle cx="332.35" cy="281.00" r="1.75" fill="#fff" stroke="#5B90D8" stroke-width="0.9"/>
<circle cx="336.35" cy="281.00" r="1.75" fill="#fff" stroke="#5B90D8" stroke-width="0.9"/>
<path d="M342.30,342.4 V289.60 H349.60 V342.4" fill="none" stroke="#5B90D8" stroke-width="1.1"/>
<line x1="342.30" y1="355.40" x2="342.30" y2="401.70" stroke="#5B90D8" stroke-width="1.1"/>
<line x1="349.60" y1="355.40" x2="349.60" y2="401.70" stroke="#5B90D8" stroke-width="1.1"/>
<line x1="345.95" y1="289.60" x2="345.95" y2="284.70" stroke="#5B90D8" stroke-width="1.0"/>
<line x1="344.35" y1="284.70" x2="347.55" y2="284.70" stroke="#5B90D8" stroke-width="1.0"/>
<circle cx="345.95" cy="284.70" r="1.75" fill="#fff" stroke="#5B90D8" stroke-width="0.9"/>
<circle cx="345.95" cy="288.90" r="1.75" fill="#fff" stroke="#5B90D8" stroke-width="0.9"/>
<circle cx="345.95" cy="294.30" r="1.75" fill="#fff" stroke="#5B90D8" stroke-width="0.9"/>
<path d="M353.90,342.4 V288.30 H361.20 V342.4" fill="none" stroke="#5B90D8" stroke-width="1.1"/>
<line x1="353.90" y1="355.40" x2="353.90" y2="401.70" stroke="#5B90D8" stroke-width="1.1"/>
<line x1="361.20" y1="355.40" x2="361.20" y2="401.70" stroke="#5B90D8" stroke-width="1.1"/>
<line x1="357.55" y1="288.30" x2="357.55" y2="284.70" stroke="#5B90D8" stroke-width="1.0"/>
<line x1="355.95" y1="284.70" x2="359.15" y2="284.70" stroke="#5B90D8" stroke-width="1.0"/>
<circle cx="355.05" cy="284.70" r="1.75" fill="#fff" stroke="#5B90D8" stroke-width="0.9"/>
<circle cx="359.55" cy="287.80" r="1.75" fill="#fff" stroke="#5B90D8" stroke-width="0.9"/>
<circle cx="356.05" cy="290.70" r="1.75" fill="#fff" stroke="#5B90D8" stroke-width="0.9"/>
<path d="M365.50,342.4 V283.40 H372.80 V342.4" fill="none" stroke="#5B90D8" stroke-width="1.1"/>
<line x1="365.50" y1="355.40" x2="365.50" y2="401.70" stroke="#5B90D8" stroke-width="1.1"/>
<line x1="372.80" y1="355.40" x2="372.80" y2="401.70" stroke="#5B90D8" stroke-width="1.1"/>
<line x1="369.15" y1="283.40" x2="369.15" y2="273.70" stroke="#5B90D8" stroke-width="1.0"/>
<line x1="367.55" y1="273.70" x2="370.75" y2="273.70" stroke="#5B90D8" stroke-width="1.0"/>
<circle cx="369.15" cy="273.70" r="1.75" fill="#fff" stroke="#5B90D8" stroke-width="0.9"/>
<circle cx="369.15" cy="284.70" r="1.75" fill="#fff" stroke="#5B90D8" stroke-width="0.9"/>
<circle cx="369.15" cy="290.20" r="1.75" fill="#fff" stroke="#5B90D8" stroke-width="0.9"/>
<path d="M377.10,342.4 V265.50 H384.40 V342.4" fill="none" stroke="#5B90D8" stroke-width="1.1"/>
<line x1="377.10" y1="355.40" x2="377.10" y2="401.70" stroke="#5B90D8" stroke-width="1.1"/>
<line x1="384.40" y1="355.40" x2="384.40" y2="401.70" stroke="#5B90D8" stroke-width="1.1"/>
<line x1="380.75" y1="265.50" x2="380.75" y2="256.80" stroke="#5B90D8" stroke-width="1.0"/>
<line x1="379.15" y1="256.80" x2="382.35" y2="256.80" stroke="#5B90D8" stroke-width="1.0"/>
<circle cx="380.75" cy="256.80" r="1.75" fill="#fff" stroke="#5B90D8" stroke-width="0.9"/>
<circle cx="380.75" cy="265.90" r="1.75" fill="#fff" stroke="#5B90D8" stroke-width="0.9"/>
<circle cx="380.75" cy="273.40" r="1.75" fill="#fff" stroke="#5B90D8" stroke-width="0.9"/>
<path d="M388.70,342.4 V279.80 H396.00 V342.4" fill="none" stroke="#5B90D8" stroke-width="1.1"/>
<line x1="388.70" y1="355.40" x2="388.70" y2="401.70" stroke="#5B90D8" stroke-width="1.1"/>
<line x1="396.00" y1="355.40" x2="396.00" y2="401.70" stroke="#5B90D8" stroke-width="1.1"/>
<line x1="392.35" y1="279.80" x2="392.35" y2="275.60" stroke="#5B90D8" stroke-width="1.0"/>
<line x1="390.75" y1="275.60" x2="393.95" y2="275.60" stroke="#5B90D8" stroke-width="1.0"/>
<circle cx="389.85" cy="275.60" r="1.75" fill="#fff" stroke="#5B90D8" stroke-width="0.9"/>
<circle cx="394.35" cy="278.70" r="1.75" fill="#fff" stroke="#5B90D8" stroke-width="0.9"/>
<circle cx="392.35" cy="284.10" r="1.75" fill="#fff" stroke="#5B90D8" stroke-width="0.9"/>
<path d="M400.30,342.4 V266.10 H407.60 V342.4" fill="none" stroke="#5B90D8" stroke-width="1.1"/>
<line x1="400.30" y1="355.40" x2="400.30" y2="401.70" stroke="#5B90D8" stroke-width="1.1"/>
<line x1="407.60" y1="355.40" x2="407.60" y2="401.70" stroke="#5B90D8" stroke-width="1.1"/>
<line x1="403.95" y1="266.10" x2="403.95" y2="258.60" stroke="#5B90D8" stroke-width="1.0"/>
<line x1="402.35" y1="258.60" x2="405.55" y2="258.60" stroke="#5B90D8" stroke-width="1.0"/>
<circle cx="403.95" cy="258.60" r="1.75" fill="#fff" stroke="#5B90D8" stroke-width="0.9"/>
<circle cx="403.95" cy="267.40" r="1.75" fill="#fff" stroke="#5B90D8" stroke-width="0.9"/>
<circle cx="403.95" cy="271.60" r="1.75" fill="#fff" stroke="#5B90D8" stroke-width="0.9"/>
<path d="M411.90,342.4 V287.00 H419.20 V342.4" fill="none" stroke="#5B90D8" stroke-width="1.1"/>
<line x1="411.90" y1="355.40" x2="411.90" y2="401.70" stroke="#5B90D8" stroke-width="1.1"/>
<line x1="419.20" y1="355.40" x2="419.20" y2="401.70" stroke="#5B90D8" stroke-width="1.1"/>
<line x1="415.55" y1="287.00" x2="415.55" y2="282.30" stroke="#5B90D8" stroke-width="1.0"/>
<line x1="413.95" y1="282.30" x2="417.15" y2="282.30" stroke="#5B90D8" stroke-width="1.0"/>
<circle cx="415.55" cy="282.30" r="1.75" fill="#fff" stroke="#5B90D8" stroke-width="0.9"/>
<circle cx="415.55" cy="287.80" r="1.75" fill="#fff" stroke="#5B90D8" stroke-width="0.9"/>
<circle cx="415.55" cy="291.10" r="1.75" fill="#fff" stroke="#5B90D8" stroke-width="0.9"/>
<path d="M423.50,342.4 V269.20 H430.80 V342.4" fill="none" stroke="#5B90D8" stroke-width="1.1"/>
<line x1="423.50" y1="355.40" x2="423.50" y2="401.70" stroke="#5B90D8" stroke-width="1.1"/>
<line x1="430.80" y1="355.40" x2="430.80" y2="401.70" stroke="#5B90D8" stroke-width="1.1"/>
<line x1="427.15" y1="269.20" x2="427.15" y2="262.80" stroke="#5B90D8" stroke-width="1.0"/>
<line x1="425.55" y1="262.80" x2="428.75" y2="262.80" stroke="#5B90D8" stroke-width="1.0"/>
<circle cx="427.15" cy="262.80" r="1.75" fill="#fff" stroke="#5B90D8" stroke-width="0.9"/>
<circle cx="427.15" cy="268.80" r="1.75" fill="#fff" stroke="#5B90D8" stroke-width="0.9"/>
<circle cx="427.15" cy="275.00" r="1.75" fill="#fff" stroke="#5B90D8" stroke-width="0.9"/>
<path d="M435.10,342.4 V262.30 H442.40 V342.4" fill="none" stroke="#5B90D8" stroke-width="1.1"/>
<line x1="435.10" y1="355.40" x2="435.10" y2="401.70" stroke="#5B90D8" stroke-width="1.1"/>
<line x1="442.40" y1="355.40" x2="442.40" y2="401.70" stroke="#5B90D8" stroke-width="1.1"/>
<line x1="438.75" y1="262.30" x2="438.75" y2="250.60" stroke="#5B90D8" stroke-width="1.0"/>
<line x1="437.15" y1="250.60" x2="440.35" y2="250.60" stroke="#5B90D8" stroke-width="1.0"/>
<circle cx="438.75" cy="250.60" r="1.75" fill="#fff" stroke="#5B90D8" stroke-width="0.9"/>
<circle cx="438.75" cy="264.10" r="1.75" fill="#fff" stroke="#5B90D8" stroke-width="0.9"/>
<circle cx="438.75" cy="271.60" r="1.75" fill="#fff" stroke="#5B90D8" stroke-width="0.9"/>
<path d="M446.70,342.4 V287.40 H454.00 V342.4" fill="none" stroke="#5B90D8" stroke-width="1.1"/>
<line x1="446.70" y1="355.40" x2="446.70" y2="401.70" stroke="#5B90D8" stroke-width="1.1"/>
<line x1="454.00" y1="355.40" x2="454.00" y2="401.70" stroke="#5B90D8" stroke-width="1.1"/>
<line x1="450.35" y1="287.40" x2="450.35" y2="282.90" stroke="#5B90D8" stroke-width="1.0"/>
<line x1="448.75" y1="282.90" x2="451.95" y2="282.90" stroke="#5B90D8" stroke-width="1.0"/>
<circle cx="448.35" cy="282.90" r="1.75" fill="#fff" stroke="#5B90D8" stroke-width="0.9"/>
<circle cx="452.35" cy="285.60" r="1.75" fill="#fff" stroke="#5B90D8" stroke-width="0.9"/>
<circle cx="450.35" cy="293.30" r="1.75" fill="#fff" stroke="#5B90D8" stroke-width="0.9"/>
<path d="M458.30,342.4 V287.40 H465.60 V342.4" fill="none" stroke="#5B90D8" stroke-width="1.1"/>
<line x1="458.30" y1="355.40" x2="458.30" y2="401.70" stroke="#5B90D8" stroke-width="1.1"/>
<line x1="465.60" y1="355.40" x2="465.60" y2="401.70" stroke="#5B90D8" stroke-width="1.1"/>
<line x1="461.95" y1="287.40" x2="461.95" y2="279.80" stroke="#5B90D8" stroke-width="1.0"/>
<line x1="460.35" y1="279.80" x2="463.55" y2="279.80" stroke="#5B90D8" stroke-width="1.0"/>
<circle cx="461.95" cy="279.80" r="1.75" fill="#fff" stroke="#5B90D8" stroke-width="0.9"/>
<circle cx="461.95" cy="287.10" r="1.75" fill="#fff" stroke="#5B90D8" stroke-width="0.9"/>
<circle cx="461.95" cy="294.20" r="1.75" fill="#fff" stroke="#5B90D8" stroke-width="0.9"/>
<path d="M469.90,342.4 V284.70 H477.20 V342.4" fill="none" stroke="#5B90D8" stroke-width="1.1"/>
<line x1="469.90" y1="355.40" x2="469.90" y2="401.70" stroke="#5B90D8" stroke-width="1.1"/>
<line x1="477.20" y1="355.40" x2="477.20" y2="401.70" stroke="#5B90D8" stroke-width="1.1"/>
<line x1="473.55" y1="284.70" x2="473.55" y2="281.00" stroke="#5B90D8" stroke-width="1.0"/>
<line x1="471.95" y1="281.00" x2="475.15" y2="281.00" stroke="#5B90D8" stroke-width="1.0"/>
<circle cx="474.55" cy="281.00" r="1.75" fill="#fff" stroke="#5B90D8" stroke-width="0.9"/>
<circle cx="472.05" cy="287.80" r="1.75" fill="#fff" stroke="#5B90D8" stroke-width="0.9"/>
<circle cx="475.55" cy="284.70" r="1.75" fill="#fff" stroke="#5B90D8" stroke-width="0.9"/>
<path d="M481.50,342.4 V290.20 H488.80 V342.4" fill="none" stroke="#5B90D8" stroke-width="1.1"/>
<line x1="481.50" y1="355.40" x2="481.50" y2="401.70" stroke="#5B90D8" stroke-width="1.1"/>
<line x1="488.80" y1="355.40" x2="488.80" y2="401.70" stroke="#5B90D8" stroke-width="1.1"/>
<line x1="485.15" y1="290.20" x2="485.15" y2="285.60" stroke="#5B90D8" stroke-width="1.0"/>
<line x1="483.55" y1="285.60" x2="486.75" y2="285.60" stroke="#5B90D8" stroke-width="1.0"/>
<circle cx="485.15" cy="285.60" r="1.75" fill="#fff" stroke="#5B90D8" stroke-width="0.9"/>
<circle cx="485.15" cy="290.20" r="1.75" fill="#fff" stroke="#5B90D8" stroke-width="0.9"/>
<circle cx="485.15" cy="294.30" r="1.75" fill="#fff" stroke="#5B90D8" stroke-width="0.9"/>
<path d="M493.10,342.4 V288.90 H500.40 V342.4" fill="none" stroke="#5B90D8" stroke-width="1.1"/>
<line x1="493.10" y1="355.40" x2="493.10" y2="401.70" stroke="#5B90D8" stroke-width="1.1"/>
<line x1="500.40" y1="355.40" x2="500.40" y2="401.70" stroke="#5B90D8" stroke-width="1.1"/>
<line x1="496.75" y1="288.90" x2="496.75" y2="284.70" stroke="#5B90D8" stroke-width="1.0"/>
<line x1="495.15" y1="284.70" x2="498.35" y2="284.70" stroke="#5B90D8" stroke-width="1.0"/>
<circle cx="494.75" cy="284.70" r="1.75" fill="#fff" stroke="#5B90D8" stroke-width="0.9"/>
<circle cx="498.75" cy="286.50" r="1.75" fill="#fff" stroke="#5B90D8" stroke-width="0.9"/>
<circle cx="496.75" cy="294.20" r="1.75" fill="#fff" stroke="#5B90D8" stroke-width="0.9"/>
<path d="M504.70,342.4 V277.40 H512.00 V342.4" fill="none" stroke="#5B90D8" stroke-width="1.1"/>
<line x1="504.70" y1="355.40" x2="504.70" y2="401.70" stroke="#5B90D8" stroke-width="1.1"/>
<line x1="512.00" y1="355.40" x2="512.00" y2="401.70" stroke="#5B90D8" stroke-width="1.1"/>
<line x1="508.35" y1="277.40" x2="508.35" y2="272.50" stroke="#5B90D8" stroke-width="1.0"/>
<line x1="506.75" y1="272.50" x2="509.95" y2="272.50" stroke="#5B90D8" stroke-width="1.0"/>
<circle cx="506.35" cy="272.50" r="1.75" fill="#fff" stroke="#5B90D8" stroke-width="0.9"/>
<circle cx="510.35" cy="274.10" r="1.75" fill="#fff" stroke="#5B90D8" stroke-width="0.9"/>
<circle cx="508.35" cy="283.20" r="1.75" fill="#fff" stroke="#5B90D8" stroke-width="0.9"/>
<path d="M226.30,401.7 V370.1 H233.60 V401.7" fill="none" stroke="#555" stroke-width="1.1"/>
<line x1="229.95" y1="370.10" x2="229.95" y2="359.20" stroke="#888" stroke-width="1.0"/>
<rect x="228.65" y="357.70" width="3.00" height="3.00" fill="#fff" stroke="#555" stroke-width="0.9"/>
<rect x="228.65" y="370.80" width="3.00" height="3.00" fill="#fff" stroke="#555" stroke-width="0.9"/>
<rect x="228.65" y="377.40" width="3.00" height="3.00" fill="#fff" stroke="#555" stroke-width="0.9"/>
<line x1="229.95" y1="401.70" x2="229.95" y2="408.20" stroke="#111" stroke-width="1.0"/>
<text x="231.95" y="415.40" font-size="8.0" fill="#222" text-anchor="end" transform="rotate(-45 231.95 415.40)" stroke="#222" stroke-width="0.2">Negative</text>
<line x1="241.55" y1="401.70" x2="241.55" y2="408.20" stroke="#111" stroke-width="1.0"/>
<text x="243.55" y="415.40" font-size="8.0" fill="#222" text-anchor="end" transform="rotate(-45 243.55 415.40)" stroke="#222" stroke-width="0.2">Positive</text>
<line x1="253.15" y1="401.70" x2="253.15" y2="408.20" stroke="#111" stroke-width="1.0"/>
<text x="255.15" y="415.40" font-size="8.0" fill="#222" text-anchor="end" transform="rotate(-45 255.15 415.40)" stroke="#222" stroke-width="0.2">S1655</text>
<line x1="264.75" y1="401.70" x2="264.75" y2="408.20" stroke="#111" stroke-width="1.0"/>
<text x="266.75" y="415.40" font-size="8.0" fill="#222" text-anchor="end" transform="rotate(-45 266.75 415.40)" stroke="#222" stroke-width="0.2">S1759</text>
<line x1="276.35" y1="401.70" x2="276.35" y2="408.20" stroke="#111" stroke-width="1.0"/>
<text x="278.35" y="415.40" font-size="8.0" fill="#222" text-anchor="end" transform="rotate(-45 278.35 415.40)" stroke="#222" stroke-width="0.2">S1792</text>
<line x1="287.95" y1="401.70" x2="287.95" y2="408.20" stroke="#111" stroke-width="1.0"/>
<text x="289.95" y="415.40" font-size="8.0" fill="#222" text-anchor="end" transform="rotate(-45 289.95 415.40)" stroke="#222" stroke-width="0.2">S1794</text>
<line x1="299.55" y1="401.70" x2="299.55" y2="408.20" stroke="#111" stroke-width="1.0"/>
<text x="301.55" y="415.40" font-size="8.0" fill="#222" text-anchor="end" transform="rotate(-45 301.55 415.40)" stroke="#222" stroke-width="0.2">S1806</text>
<line x1="311.15" y1="401.70" x2="311.15" y2="408.20" stroke="#111" stroke-width="1.0"/>
<text x="313.15" y="415.40" font-size="8.0" fill="#222" text-anchor="end" transform="rotate(-45 313.15 415.40)" stroke="#222" stroke-width="0.2">S1820</text>
<line x1="322.75" y1="401.70" x2="322.75" y2="408.20" stroke="#111" stroke-width="1.0"/>
<text x="324.75" y="415.40" font-size="8.0" fill="#E8283C" text-anchor="end" transform="rotate(-45 324.75 415.40)" stroke="#E8283C" stroke-width="0.2">S1909</text>
<line x1="334.35" y1="401.70" x2="334.35" y2="408.20" stroke="#111" stroke-width="1.0"/>
<text x="336.35" y="415.40" font-size="8.0" fill="#222" text-anchor="end" transform="rotate(-45 336.35 415.40)" stroke="#222" stroke-width="0.2">S2061</text>
<line x1="345.95" y1="401.70" x2="345.95" y2="408.20" stroke="#111" stroke-width="1.0"/>
<text x="347.95" y="415.40" font-size="8.0" fill="#222" text-anchor="end" transform="rotate(-45 347.95 415.40)" stroke="#222" stroke-width="0.2">S2077</text>
<line x1="357.55" y1="401.70" x2="357.55" y2="408.20" stroke="#111" stroke-width="1.0"/>
<text x="359.55" y="415.40" font-size="8.0" fill="#222" text-anchor="end" transform="rotate(-45 359.55 415.40)" stroke="#222" stroke-width="0.2">S2169</text>
<line x1="369.15" y1="401.70" x2="369.15" y2="408.20" stroke="#111" stroke-width="1.0"/>
<text x="371.15" y="415.40" font-size="8.0" fill="#222" text-anchor="end" transform="rotate(-45 371.15 415.40)" stroke="#222" stroke-width="0.2">S2664</text>
<line x1="380.75" y1="401.70" x2="380.75" y2="408.20" stroke="#111" stroke-width="1.0"/>
<text x="382.75" y="415.40" font-size="8.0" fill="#222" text-anchor="end" transform="rotate(-45 382.75 415.40)" stroke="#222" stroke-width="0.2">S2665</text>
<line x1="392.35" y1="401.70" x2="392.35" y2="408.20" stroke="#111" stroke-width="1.0"/>
<text x="394.35" y="415.40" font-size="8.0" fill="#222" text-anchor="end" transform="rotate(-45 394.35 415.40)" stroke="#222" stroke-width="0.2">S3036</text>
<line x1="403.95" y1="401.70" x2="403.95" y2="408.20" stroke="#111" stroke-width="1.0"/>
<text x="405.95" y="415.40" font-size="8.0" fill="#222" text-anchor="end" transform="rotate(-45 405.95 415.40)" stroke="#222" stroke-width="0.2">S4159</text>
<line x1="415.55" y1="401.70" x2="415.55" y2="408.20" stroke="#111" stroke-width="1.0"/>
<text x="417.55" y="415.40" font-size="8.0" fill="#222" text-anchor="end" transform="rotate(-45 417.55 415.40)" stroke="#222" stroke-width="0.2">S4223</text>
<line x1="427.15" y1="401.70" x2="427.15" y2="408.20" stroke="#111" stroke-width="1.0"/>
<text x="429.15" y="415.40" font-size="8.0" fill="#222" text-anchor="end" transform="rotate(-45 429.15 415.40)" stroke="#222" stroke-width="0.2">S4264</text>
<line x1="438.75" y1="401.70" x2="438.75" y2="408.20" stroke="#111" stroke-width="1.0"/>
<text x="440.75" y="415.40" font-size="8.0" fill="#222" text-anchor="end" transform="rotate(-45 440.75 415.40)" stroke="#222" stroke-width="0.2">S4527</text>
<line x1="450.35" y1="401.70" x2="450.35" y2="408.20" stroke="#111" stroke-width="1.0"/>
<text x="452.35" y="415.40" font-size="8.0" fill="#222" text-anchor="end" transform="rotate(-45 452.35 415.40)" stroke="#222" stroke-width="0.2">S5713</text>
<line x1="461.95" y1="401.70" x2="461.95" y2="408.20" stroke="#111" stroke-width="1.0"/>
<text x="463.95" y="415.40" font-size="8.0" fill="#222" text-anchor="end" transform="rotate(-45 463.95 415.40)" stroke="#222" stroke-width="0.2">S5715</text>
<line x1="473.55" y1="401.70" x2="473.55" y2="408.20" stroke="#111" stroke-width="1.0"/>
<text x="475.55" y="415.40" font-size="8.0" fill="#222" text-anchor="end" transform="rotate(-45 475.55 415.40)" stroke="#222" stroke-width="0.2">S5812</text>
<line x1="485.15" y1="401.70" x2="485.15" y2="408.20" stroke="#111" stroke-width="1.0"/>
<text x="487.15" y="415.40" font-size="8.0" fill="#222" text-anchor="end" transform="rotate(-45 487.15 415.40)" stroke="#222" stroke-width="0.2">S6466</text>
<line x1="496.75" y1="401.70" x2="496.75" y2="408.20" stroke="#111" stroke-width="1.0"/>
<text x="498.75" y="415.40" font-size="8.0" fill="#222" text-anchor="end" transform="rotate(-45 498.75 415.40)" stroke="#222" stroke-width="0.2">S7635</text>
<line x1="508.35" y1="401.70" x2="508.35" y2="408.20" stroke="#111" stroke-width="1.0"/>
<text x="510.35" y="415.40" font-size="8.0" fill="#222" text-anchor="end" transform="rotate(-45 510.35 415.40)" stroke="#222" stroke-width="0.2">S7953</text>
<text x="277.95" y="266.40" font-size="6.6" fill="#222" text-anchor="end" transform="rotate(-90 277.95 266.40)" stroke="#222" stroke-width="0.2">p&lt;0.001</text>
<text x="324.35" y="301.90" font-size="6.6" fill="#222" text-anchor="end" transform="rotate(-90 324.35 301.90)" stroke="#222" stroke-width="0.2">p&lt;0.001</text>
<text x="534.90" y="248.80" font-size="12.5" fill="#1a1414" text-anchor="start" font-weight="bold">E</text>
<line x1="585.60" y1="253.10" x2="585.60" y2="347.60" stroke="#111" stroke-width="1.1"/>
<line x1="585.60" y1="361.00" x2="585.60" y2="385.50" stroke="#111" stroke-width="1.1"/>
<line x1="578.50" y1="385.50" x2="685.00" y2="385.50" stroke="#111" stroke-width="1.1"/>
<line x1="580.60" y1="345.10" x2="589.60" y2="353.40" stroke="#111" stroke-width="1.1"/>
<line x1="580.90" y1="356.80" x2="589.60" y2="365.10" stroke="#111" stroke-width="1.1"/>
<line x1="578.40" y1="260.80" x2="585.60" y2="260.80" stroke="#111" stroke-width="1.1"/>
<text x="576.30" y="264.00" font-size="8.9" fill="#222" text-anchor="end" stroke="#222" stroke-width="0.2">14000</text>
<line x1="578.40" y1="275.50" x2="585.60" y2="275.50" stroke="#111" stroke-width="1.1"/>
<text x="576.30" y="278.70" font-size="8.9" fill="#222" text-anchor="end" stroke="#222" stroke-width="0.2">12000</text>
<line x1="578.40" y1="290.20" x2="585.60" y2="290.20" stroke="#111" stroke-width="1.1"/>
<text x="576.30" y="293.40" font-size="8.9" fill="#222" text-anchor="end" stroke="#222" stroke-width="0.2">10000</text>
<line x1="578.40" y1="304.90" x2="585.60" y2="304.90" stroke="#111" stroke-width="1.1"/>
<text x="576.30" y="308.10" font-size="8.9" fill="#222" text-anchor="end" stroke="#222" stroke-width="0.2">8000</text>
<line x1="578.40" y1="319.60" x2="585.60" y2="319.60" stroke="#111" stroke-width="1.1"/>
<text x="576.30" y="322.80" font-size="8.9" fill="#222" text-anchor="end" stroke="#222" stroke-width="0.2">6000</text>
<line x1="578.40" y1="334.30" x2="585.60" y2="334.30" stroke="#111" stroke-width="1.1"/>
<text x="576.30" y="337.50" font-size="8.9" fill="#222" text-anchor="end" stroke="#222" stroke-width="0.2">4000</text>
<text x="576.30" y="352.20" font-size="8.9" fill="#222" text-anchor="end" stroke="#222" stroke-width="0.2">2000</text>
<text x="576.30" y="364.70" font-size="8.9" fill="#222" text-anchor="end" stroke="#222" stroke-width="0.2">200</text>
<text x="576.30" y="376.70" font-size="8.9" fill="#222" text-anchor="end" stroke="#222" stroke-width="0.2">100</text>
<line x1="578.70" y1="373.50" x2="585.60" y2="373.50" stroke="#111" stroke-width="1.1"/>
<text x="576.30" y="388.70" font-size="8.9" fill="#222" text-anchor="end" stroke="#222" stroke-width="0.2">0</text>
<text x="549.40" y="320.00" font-size="9.1" fill="#222" text-anchor="middle" transform="rotate(-90 549.40 320.00)" stroke="#222" stroke-width="0.2">Luminescence(RLU)</text>
<path d="M609.95,348.6 V280.00 H621.95 V348.6" fill="none" stroke="#5B90D8" stroke-width="1.1"/>
<line x1="609.95" y1="361.20" x2="609.95" y2="385.50" stroke="#5B90D8" stroke-width="1.1"/>
<line x1="621.95" y1="361.20" x2="621.95" y2="385.50" stroke="#5B90D8" stroke-width="1.1"/>
<path d="M628.40,348.6 V307.60 H640.40 V348.6" fill="none" stroke="#7F86CC" stroke-width="1.1"/>
<line x1="628.40" y1="361.20" x2="628.40" y2="385.50" stroke="#7F86CC" stroke-width="1.1"/>
<line x1="640.40" y1="361.20" x2="640.40" y2="385.50" stroke="#7F86CC" stroke-width="1.1"/>
<path d="M646.85,348.6 V318.70 H658.85 V348.6" fill="none" stroke="#F4A65B" stroke-width="1.1"/>
<line x1="646.85" y1="361.20" x2="646.85" y2="385.50" stroke="#F4A65B" stroke-width="1.1"/>
<line x1="658.85" y1="361.20" x2="658.85" y2="385.50" stroke="#F4A65B" stroke-width="1.1"/>
<path d="M665.30,348.6 V334.40 H677.30 V348.6" fill="none" stroke="#E2626E" stroke-width="1.1"/>
<line x1="665.30" y1="361.20" x2="665.30" y2="385.50" stroke="#E2626E" stroke-width="1.1"/>
<line x1="677.30" y1="361.20" x2="677.30" y2="385.50" stroke="#E2626E" stroke-width="1.1"/>
<line x1="615.95" y1="273.20" x2="615.95" y2="285.80" stroke="#5B90D8" stroke-width="1.0"/>
<line x1="612.75" y1="275.20" x2="619.15" y2="275.20" stroke="#5B90D8" stroke-width="1.0"/>
<rect x="614.25" y="273.60" width="3.40" height="3.40" fill="#fff" stroke="#5B90D8" stroke-width="0.9"/>
<rect x="614.25" y="277.50" width="3.40" height="3.40" fill="#fff" stroke="#5B90D8" stroke-width="0.9"/>
<rect x="614.25" y="281.90" width="3.40" height="3.40" fill="#fff" stroke="#5B90D8" stroke-width="0.9"/>
<line x1="631.40" y1="305.30" x2="637.40" y2="305.30" stroke="#7F86CC" stroke-width="1.0"/>
<path d="M630.20,306.60 L632.10,310.00 L628.30,310.00 Z" fill="#fff" stroke="#7F86CC" stroke-width="0.9"/>
<path d="M634.40,303.50 L636.30,306.90 L632.50,306.90 Z" fill="#fff" stroke="#7F86CC" stroke-width="0.9"/>
<path d="M638.40,305.50 L640.30,308.90 L636.50,308.90 Z" fill="#fff" stroke="#7F86CC" stroke-width="0.9"/>
<line x1="649.85" y1="317.00" x2="655.85" y2="317.00" stroke="#F4A65B" stroke-width="1.0"/>
<circle cx="648.85" cy="319.50" r="1.60" fill="#fff" stroke="#F4A65B" stroke-width="0.9"/>
<circle cx="652.85" cy="317.60" r="1.60" fill="#fff" stroke="#F4A65B" stroke-width="0.9"/>
<circle cx="656.85" cy="318.50" r="1.60" fill="#fff" stroke="#F4A65B" stroke-width="0.9"/>
<line x1="668.30" y1="332.50" x2="674.30" y2="332.50" stroke="#E2626E" stroke-width="1.0"/>
<circle cx="667.30" cy="335.50" r="1.60" fill="#fff" stroke="#E2626E" stroke-width="0.9"/>
<circle cx="671.30" cy="333.00" r="1.60" fill="#fff" stroke="#E2626E" stroke-width="0.9"/>
<circle cx="675.30" cy="334.50" r="1.60" fill="#fff" stroke="#E2626E" stroke-width="0.9"/>
<path d="M591.50,385.5 V376.5 H603.50 V385.5" fill="none" stroke="#555555" stroke-width="1.1"/>
<circle cx="593.00" cy="377.20" r="1.60" fill="#fff" stroke="#555555" stroke-width="0.9"/>
<circle cx="597.50" cy="375.80" r="1.60" fill="#fff" stroke="#555555" stroke-width="0.9"/>
<circle cx="602.00" cy="377.20" r="1.60" fill="#fff" stroke="#555555" stroke-width="0.9"/>
<line x1="597.50" y1="385.50" x2="597.50" y2="392.30" stroke="#111" stroke-width="1.0"/>
<line x1="615.95" y1="385.50" x2="615.95" y2="392.30" stroke="#111" stroke-width="1.0"/>
<line x1="634.40" y1="385.50" x2="634.40" y2="392.30" stroke="#111" stroke-width="1.0"/>
<line x1="652.85" y1="385.50" x2="652.85" y2="392.30" stroke="#111" stroke-width="1.0"/>
<line x1="671.30" y1="385.50" x2="671.30" y2="392.30" stroke="#111" stroke-width="1.0"/>
<text x="636.70" y="277.80" font-size="6.5" fill="#222" text-anchor="end" transform="rotate(-90 636.70 277.80)" stroke="#222" stroke-width="0.2">p&lt;0.001</text>
<text x="655.15" y="289.50" font-size="6.5" fill="#222" text-anchor="end" transform="rotate(-90 655.15 289.50)" stroke="#222" stroke-width="0.2">p&lt;0.001</text>
<text x="673.60" y="303.40" font-size="6.5" fill="#222" text-anchor="end" transform="rotate(-90 673.60 303.40)" stroke="#222" stroke-width="0.2">p&lt;0.001</text>
<text x="590.30" y="401.80" font-size="9.2" fill="#222" text-anchor="end" stroke="#222" stroke-width="0.2">Fluv. (µM)</text>
<text x="589.90" y="415.00" font-size="9.05" fill="#222" text-anchor="end" stroke="#222" stroke-width="0.2">CYP4Z1</text>
<text x="615.95" y="401.80" font-size="9.2" fill="#222" text-anchor="middle" stroke="#222" stroke-width="0.2">0</text>
<text x="634.40" y="401.80" font-size="9.2" fill="#222" text-anchor="middle" stroke="#222" stroke-width="0.2">0.02</text>
<text x="652.85" y="401.80" font-size="9.2" fill="#222" text-anchor="middle" stroke="#222" stroke-width="0.2">0.1</text>
<text x="671.30" y="401.80" font-size="9.2" fill="#222" text-anchor="middle" stroke="#222" stroke-width="0.2">0.5</text>
<line x1="596.00" y1="399.80" x2="599.30" y2="399.80" stroke="#222" stroke-width="1.0"/>
<line x1="595.80" y1="412.90" x2="599.30" y2="412.90" stroke="#222" stroke-width="1.0"/>
<line x1="615.95" y1="409.10" x2="615.95" y2="414.60" stroke="#222" stroke-width="0.9"/>
<line x1="614.20" y1="411.70" x2="617.70" y2="411.70" stroke="#222" stroke-width="0.9"/>
<line x1="634.40" y1="409.10" x2="634.40" y2="414.60" stroke="#222" stroke-width="0.9"/>
<line x1="632.65" y1="411.70" x2="636.15" y2="411.70" stroke="#222" stroke-width="0.9"/>
<line x1="652.85" y1="409.10" x2="652.85" y2="414.60" stroke="#222" stroke-width="0.9"/>
<line x1="651.10" y1="411.70" x2="654.60" y2="411.70" stroke="#222" stroke-width="0.9"/>
<line x1="671.30" y1="409.10" x2="671.30" y2="414.60" stroke="#222" stroke-width="0.9"/>
<line x1="669.55" y1="411.70" x2="673.05" y2="411.70" stroke="#222" stroke-width="0.9"/>
</svg>
</body></html>
